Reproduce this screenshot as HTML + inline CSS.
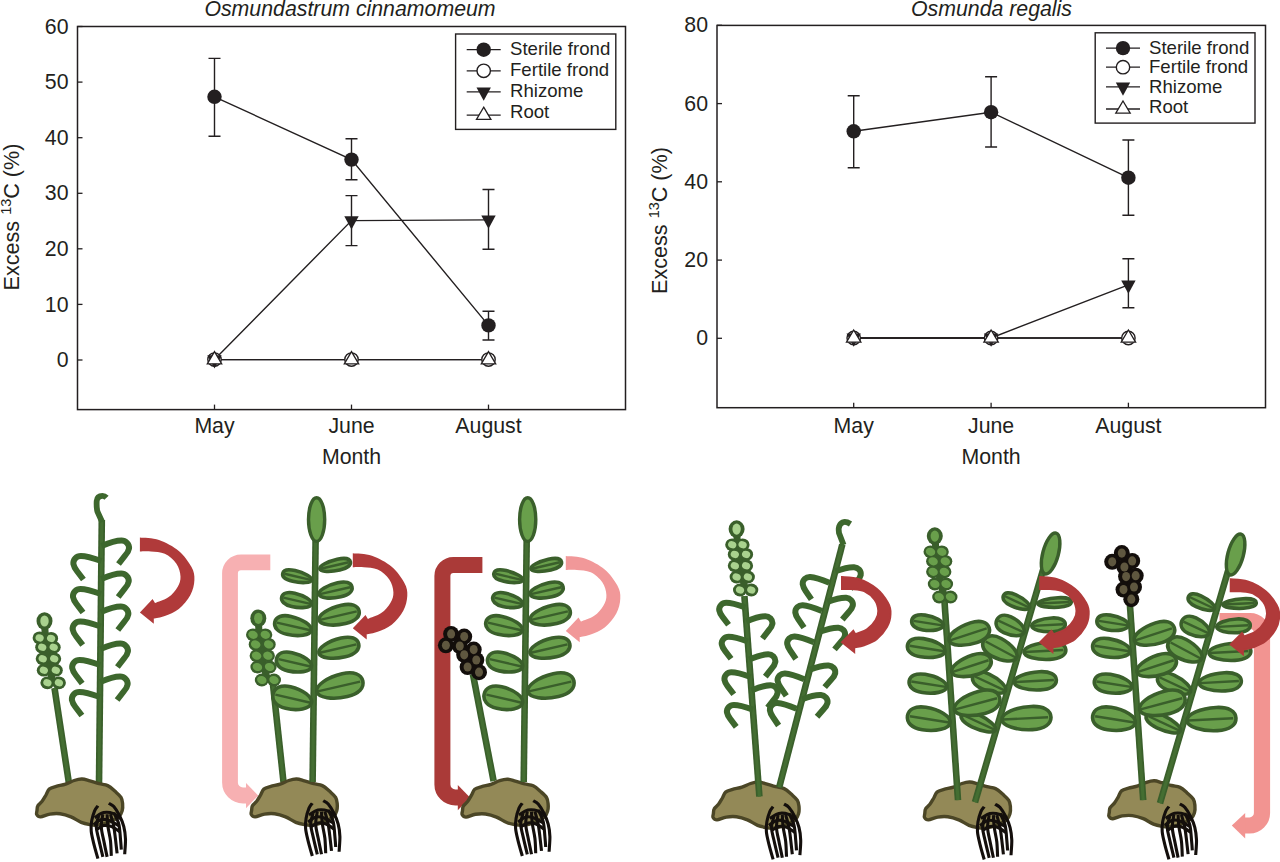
<!DOCTYPE html><html><head><meta charset="utf-8"><style>html,body{margin:0;padding:0;background:#fff;width:1280px;height:862px;overflow:hidden}svg{display:block}</style></head><body>
<svg width="1280" height="862" viewBox="0 0 1280 862" font-family='"Liberation Sans", sans-serif' fill="#231f20">
<rect x="77.5" y="26.5" width="548.0" height="383.1" fill="none" stroke="#231f20" stroke-width="1.5"/>
<line x1="77.5" y1="26.5" x2="82.5" y2="26.5" stroke="#231f20" stroke-width="1.3"/>
<text x="68.5" y="33.6" text-anchor="end" font-size="21.3">60</text>
<line x1="77.5" y1="82.1" x2="82.5" y2="82.1" stroke="#231f20" stroke-width="1.3"/>
<text x="68.5" y="89.19999999999999" text-anchor="end" font-size="21.3">50</text>
<line x1="77.5" y1="137.7" x2="82.5" y2="137.7" stroke="#231f20" stroke-width="1.3"/>
<text x="68.5" y="144.79999999999998" text-anchor="end" font-size="21.3">40</text>
<line x1="77.5" y1="193.3" x2="82.5" y2="193.3" stroke="#231f20" stroke-width="1.3"/>
<text x="68.5" y="200.4" text-anchor="end" font-size="21.3">30</text>
<line x1="77.5" y1="248.8" x2="82.5" y2="248.8" stroke="#231f20" stroke-width="1.3"/>
<text x="68.5" y="255.9" text-anchor="end" font-size="21.3">20</text>
<line x1="77.5" y1="304.4" x2="82.5" y2="304.4" stroke="#231f20" stroke-width="1.3"/>
<text x="68.5" y="311.5" text-anchor="end" font-size="21.3">10</text>
<line x1="77.5" y1="360.0" x2="82.5" y2="360.0" stroke="#231f20" stroke-width="1.3"/>
<text x="68.5" y="367.1" text-anchor="end" font-size="21.3">0</text>
<line x1="214.5" y1="409.6" x2="214.5" y2="404.6" stroke="#231f20" stroke-width="1.3"/>
<text x="214.5" y="432.8" text-anchor="middle" font-size="21.3">May</text>
<line x1="351.5" y1="409.6" x2="351.5" y2="404.6" stroke="#231f20" stroke-width="1.3"/>
<text x="351.5" y="432.8" text-anchor="middle" font-size="21.3">June</text>
<line x1="488.5" y1="409.6" x2="488.5" y2="404.6" stroke="#231f20" stroke-width="1.3"/>
<text x="488.5" y="432.8" text-anchor="middle" font-size="21.3">August</text>
<text x="351.5" y="464.4" text-anchor="middle" font-size="21.3">Month</text>
<text transform="translate(19,217) rotate(-90)" text-anchor="middle" font-size="21.6">Excess <tspan font-size="14.5" dy="-8">13</tspan><tspan dy="8">C (%)</tspan></text>
<text x="350" y="16" text-anchor="middle" font-size="21.3" font-style="italic">Osmundastrum cinnamomeum</text>
<polyline points="214.5,359.6 351.5,359.6 488.5,359.6" fill="none" stroke="#231f20" stroke-width="1.4"/>
<polyline points="214.5,359.6 351.5,359.6 488.5,359.6" fill="none" stroke="#231f20" stroke-width="1.4"/>
<polyline points="214.5,359.6 351.5,220.6 488.5,219.9" fill="none" stroke="#231f20" stroke-width="1.4"/>
<polyline points="214.5,96.8 351.5,159.6 488.5,325.4" fill="none" stroke="#231f20" stroke-width="1.4"/>
<path d="M214.5,58.4 V136.2 M208.5,58.4 H220.5 M208.5,136.2 H220.5" stroke="#231f20" stroke-width="1.4" fill="none"/>
<path d="M351.5,138.7 V179.8 M345.5,138.7 H357.5 M345.5,179.8 H357.5" stroke="#231f20" stroke-width="1.4" fill="none"/>
<path d="M488.5,311.3 V340 M482.5,311.3 H494.5 M482.5,340 H494.5" stroke="#231f20" stroke-width="1.4" fill="none"/>
<path d="M351.5,195.6 V245.6 M345.5,195.6 H357.5 M345.5,245.6 H357.5" stroke="#231f20" stroke-width="1.4" fill="none"/>
<path d="M488.5,189.5 V249.2 M482.5,189.5 H494.5 M482.5,249.2 H494.5" stroke="#231f20" stroke-width="1.4" fill="none"/>
<circle cx="214.5" cy="96.8" r="7.2" fill="#231f20"/>
<circle cx="351.5" cy="159.6" r="7.2" fill="#231f20"/>
<circle cx="488.5" cy="325.4" r="7.2" fill="#231f20"/>
<circle cx="214.5" cy="359.6" r="6.7" fill="#fff" stroke="#231f20" stroke-width="1.4"/>
<circle cx="351.5" cy="359.6" r="6.7" fill="#fff" stroke="#231f20" stroke-width="1.4"/>
<circle cx="488.5" cy="359.6" r="6.7" fill="#fff" stroke="#231f20" stroke-width="1.4"/>
<path d="M207.3,355.20000000000005 H221.7 L214.5,368.40000000000003 Z" fill="#231f20"/>
<path d="M344.3,216.2 H358.7 L351.5,229.4 Z" fill="#231f20"/>
<path d="M481.3,215.5 H495.7 L488.5,228.70000000000002 Z" fill="#231f20"/>
<path d="M214.5,351.6 L221.7,363.8 H207.3 Z" fill="#fff" stroke="#231f20" stroke-width="1.3" stroke-linejoin="miter"/>
<path d="M351.5,351.6 L358.7,363.8 H344.3 Z" fill="#fff" stroke="#231f20" stroke-width="1.3" stroke-linejoin="miter"/>
<path d="M488.5,351.6 L495.7,363.8 H481.3 Z" fill="#fff" stroke="#231f20" stroke-width="1.3" stroke-linejoin="miter"/>
<rect x="455.6" y="34" width="160.19999999999993" height="95.4" fill="#fff" stroke="#231f20" stroke-width="1.4"/>
<line x1="466.7" y1="49.7" x2="500.7" y2="49.7" stroke="#231f20" stroke-width="1.3"/>
<circle cx="483.7" cy="49.7" r="7.2" fill="#231f20"/>
<text x="510" y="55.3" font-size="18.6">Sterile frond</text>
<line x1="466.7" y1="70.8" x2="500.7" y2="70.8" stroke="#231f20" stroke-width="1.3"/>
<circle cx="483.7" cy="70.8" r="6.7" fill="#fff" stroke="#231f20" stroke-width="1.4"/>
<text x="510" y="76" font-size="18.6">Fertile frond</text>
<line x1="466.7" y1="91.9" x2="500.7" y2="91.9" stroke="#231f20" stroke-width="1.3"/>
<path d="M476.5,87.5 H490.9 L483.7,100.7 Z" fill="#231f20"/>
<text x="510" y="97" font-size="18.6">Rhizome</text>
<line x1="466.7" y1="115.2" x2="500.7" y2="115.2" stroke="#231f20" stroke-width="1.3"/>
<path d="M483.7,107.2 L490.9,119.4 H476.5 Z" fill="#fff" stroke="#231f20" stroke-width="1.3" stroke-linejoin="miter"/>
<text x="510" y="118.4" font-size="18.6">Root</text>
<rect x="717" y="25.4" width="548.5" height="382.3" fill="none" stroke="#231f20" stroke-width="1.5"/>
<line x1="717" y1="25.3" x2="722" y2="25.3" stroke="#231f20" stroke-width="1.3"/>
<text x="708" y="32.4" text-anchor="end" font-size="21.3">80</text>
<line x1="717" y1="103.6" x2="722" y2="103.6" stroke="#231f20" stroke-width="1.3"/>
<text x="708" y="110.69999999999999" text-anchor="end" font-size="21.3">60</text>
<line x1="717" y1="181.8" x2="722" y2="181.8" stroke="#231f20" stroke-width="1.3"/>
<text x="708" y="188.9" text-anchor="end" font-size="21.3">40</text>
<line x1="717" y1="260.1" x2="722" y2="260.1" stroke="#231f20" stroke-width="1.3"/>
<text x="708" y="267.20000000000005" text-anchor="end" font-size="21.3">20</text>
<line x1="717" y1="338.3" x2="722" y2="338.3" stroke="#231f20" stroke-width="1.3"/>
<text x="708" y="345.40000000000003" text-anchor="end" font-size="21.3">0</text>
<line x1="853.7" y1="407.7" x2="853.7" y2="402.7" stroke="#231f20" stroke-width="1.3"/>
<text x="853.7" y="432.8" text-anchor="middle" font-size="21.3">May</text>
<line x1="991.1" y1="407.7" x2="991.1" y2="402.7" stroke="#231f20" stroke-width="1.3"/>
<text x="991.1" y="432.8" text-anchor="middle" font-size="21.3">June</text>
<line x1="1128.4" y1="407.7" x2="1128.4" y2="402.7" stroke="#231f20" stroke-width="1.3"/>
<text x="1128.4" y="432.8" text-anchor="middle" font-size="21.3">August</text>
<text x="991.1" y="464.4" text-anchor="middle" font-size="21.3">Month</text>
<text transform="translate(667,220.5) rotate(-90)" text-anchor="middle" font-size="21.6">Excess <tspan font-size="14.5" dy="-8">13</tspan><tspan dy="8">C (%)</tspan></text>
<text x="991.5" y="16" text-anchor="middle" font-size="21.3" font-style="italic">Osmunda regalis</text>
<polyline points="853.7,338 991.1,338 1128.4,338" fill="none" stroke="#231f20" stroke-width="1.4"/>
<polyline points="853.7,338 991.1,338 1128.4,338" fill="none" stroke="#231f20" stroke-width="1.4"/>
<polyline points="853.7,338 991.1,338 1128.4,284.9" fill="none" stroke="#231f20" stroke-width="1.4"/>
<polyline points="853.7,131.3 991.1,112.2 1128.4,177.7" fill="none" stroke="#231f20" stroke-width="1.4"/>
<path d="M853.7,95.8 V167.8 M847.7,95.8 H859.7 M847.7,167.8 H859.7" stroke="#231f20" stroke-width="1.4" fill="none"/>
<path d="M991.1,76.7 V147 M985.1,76.7 H997.1 M985.1,147 H997.1" stroke="#231f20" stroke-width="1.4" fill="none"/>
<path d="M1128.4,140 V215.3 M1122.4,140 H1134.4 M1122.4,215.3 H1134.4" stroke="#231f20" stroke-width="1.4" fill="none"/>
<path d="M1128.4,258.7 V307.7 M1122.4,258.7 H1134.4 M1122.4,307.7 H1134.4" stroke="#231f20" stroke-width="1.4" fill="none"/>
<circle cx="853.7" cy="131.3" r="7.2" fill="#231f20"/>
<circle cx="991.1" cy="112.2" r="7.2" fill="#231f20"/>
<circle cx="1128.4" cy="177.7" r="7.2" fill="#231f20"/>
<circle cx="853.7" cy="338" r="6.7" fill="#fff" stroke="#231f20" stroke-width="1.4"/>
<circle cx="991.1" cy="338" r="6.7" fill="#fff" stroke="#231f20" stroke-width="1.4"/>
<circle cx="1128.4" cy="338" r="6.7" fill="#fff" stroke="#231f20" stroke-width="1.4"/>
<path d="M846.5,333.6 H860.9000000000001 L853.7,346.8 Z" fill="#231f20"/>
<path d="M983.9,333.6 H998.3000000000001 L991.1,346.8 Z" fill="#231f20"/>
<path d="M1121.2,280.5 H1135.6000000000001 L1128.4,293.7 Z" fill="#231f20"/>
<path d="M853.7,330 L860.9000000000001,342.2 H846.5 Z" fill="#fff" stroke="#231f20" stroke-width="1.3" stroke-linejoin="miter"/>
<path d="M991.1,330 L998.3000000000001,342.2 H983.9 Z" fill="#fff" stroke="#231f20" stroke-width="1.3" stroke-linejoin="miter"/>
<path d="M1128.4,330 L1135.6000000000001,342.2 H1121.2 Z" fill="#fff" stroke="#231f20" stroke-width="1.3" stroke-linejoin="miter"/>
<rect x="1095.2" y="32.8" width="159.79999999999995" height="90.3" fill="#fff" stroke="#231f20" stroke-width="1.4"/>
<line x1="1106" y1="48.1" x2="1140" y2="48.1" stroke="#231f20" stroke-width="1.3"/>
<circle cx="1123" cy="48.1" r="7.2" fill="#231f20"/>
<text x="1149" y="53.6" font-size="18.6">Sterile frond</text>
<line x1="1106" y1="67.2" x2="1140" y2="67.2" stroke="#231f20" stroke-width="1.3"/>
<circle cx="1123" cy="67.2" r="6.7" fill="#fff" stroke="#231f20" stroke-width="1.4"/>
<text x="1149" y="72.7" font-size="18.6">Fertile frond</text>
<line x1="1106" y1="86.9" x2="1140" y2="86.9" stroke="#231f20" stroke-width="1.3"/>
<path d="M1115.8,82.5 H1130.2 L1123,95.7 Z" fill="#231f20"/>
<text x="1149" y="92.6" font-size="18.6">Rhizome</text>
<line x1="1106" y1="109" x2="1140" y2="109" stroke="#231f20" stroke-width="1.3"/>
<path d="M1123,101 L1130.2,113.2 H1115.8 Z" fill="#fff" stroke="#231f20" stroke-width="1.3" stroke-linejoin="miter"/>
<text x="1149" y="112.6" font-size="18.6">Root</text>
<path d="M68.9,783 L54.5,688" stroke="#3a5f2b" stroke-width="6.6" fill="none"/>
<path d="M68.9,783 L54.5,688" stroke="#446e32" stroke-width="3.2" fill="none"/>
<path d="M99,784 L101.8,520" stroke="#3a5f2b" stroke-width="6.6" fill="none"/>
<path d="M99,784 L101.8,520" stroke="#446e32" stroke-width="3.2" fill="none"/>
<path d="M37,810.6 C37.2,809.2 36.9,807.4 37.8,805.9 C38.6,804.4 40.7,803.1 42.1,801.3 C43.5,799.5 44.8,797 46,795 C47.2,793 47.5,790.5 49.2,789.1 C50.9,787.7 53.5,787.2 56.2,786.4 C58.9,785.6 62.6,785.1 65.6,784.1 C68.6,783.1 71.5,781.4 74.2,780.5 C76.9,779.6 79.4,778.9 82,779 C84.6,779.1 86.9,780.1 89.8,780.9 C92.7,781.7 96.2,782.9 99.2,783.7 C102.2,784.5 105.1,784.4 107.7,785.6 C110.3,786.8 112.6,789.1 114.8,791.1 C117,793.1 119.7,795.2 121,797.3 C122.3,799.4 122.4,801.4 122.6,803.6 C122.8,805.8 122.8,808.4 122.2,810.6 C121.6,812.8 121.1,814.9 118.7,816.9 C116.3,818.9 111.6,821.2 108,822.6 C104.4,824 99.9,824.8 97,825.1 C94.1,825.5 93.2,825.2 90.6,824.7 C88,824.2 84.5,823.6 81.2,822.3 C77.9,821 74.5,818.3 71,816.9 C67.5,815.5 63.6,814.3 60.1,813.8 C56.6,813.3 53.1,813.6 49.9,814.1 C46.6,814.6 42.8,816.8 40.6,816.9 C38.4,817 37.3,815.5 36.7,814.5 C36.1,813.5 36.8,812 37,810.6 Z" fill="#938957" stroke="#4b4626" stroke-width="3.4" stroke-linejoin="round"/>
<path d="M97.9,805.8 C97.4,806.6 95.6,808.3 94.6,810.8 C93.6,813.3 92.3,817.5 91.7,820.8 C91.1,824.2 90.9,827.1 91.2,830.9 C91.5,834.7 92.6,838.8 93.7,843.4 C94.8,848 97.2,856.1 97.9,858.6" stroke="#140f0c" stroke-width="3.1" fill="none" stroke-linecap="butt"/>
<path d="M108.8,803.3 C109.6,803.9 112,804.5 113.8,806.6 C115.6,808.7 117.9,812.5 119.6,815.8 C121.3,819.2 122.8,822.8 123.8,826.7 C124.8,830.6 125.3,834.6 125.5,839.2 C125.6,843.8 124.8,851.8 124.7,854.3" stroke="#140f0c" stroke-width="3.1" fill="none" stroke-linecap="butt"/>
<path d="M98.7,815.8 C98.3,817.6 96.3,822.8 96.3,826.7 C96.3,830.6 97.6,834.2 98.7,839.2 C99.8,844.2 102.2,854 102.9,856.9" stroke="#140f0c" stroke-width="3.1" fill="none" stroke-linecap="butt"/>
<path d="M102.9,814.2 C102.6,816.3 101.1,822.2 101.3,826.7 C101.4,831.2 102.8,835.9 103.8,840.9 C104.8,845.9 106.5,854.2 107.1,856.9" stroke="#140f0c" stroke-width="3.1" fill="none" stroke-linecap="butt"/>
<path d="M107.1,814.2 C107.2,816.3 107.4,822.2 108,826.7 C108.6,831.2 109.9,836 110.5,840.9 C111,845.8 111.2,853.4 111.3,855.9" stroke="#140f0c" stroke-width="3.1" fill="none" stroke-linecap="butt"/>
<path d="M110.5,814.2 C111,816.3 113,822.5 113.8,826.7 C114.6,830.9 114.9,834.8 115.5,839.2 C116,843.7 116.8,851 117.1,853.4" stroke="#140f0c" stroke-width="3.1" fill="none" stroke-linecap="butt"/>
<path d="M113.8,812.5 C114.6,814.5 117.7,819.8 118.8,824.2 C119.9,828.7 120.1,835 120.5,839.2 C120.9,843.4 121.2,847.9 121.3,849.6" stroke="#140f0c" stroke-width="3.1" fill="none" stroke-linecap="butt"/>
<path d="M94.6,817.6 C96.1,816.8 100.4,813.3 103.6,812.6 C106.8,811.9 110.8,812.6 113.6,813.6 C116.4,814.6 119.4,817.8 120.6,818.6" stroke="#140f0c" stroke-width="3.1" fill="none" stroke-linecap="butt"/>
<path d="M93.6,824.6 C94.9,823.8 98.9,820.3 101.6,819.6 C104.3,818.9 106.8,819.6 109.6,820.6 C112.4,821.6 117.1,824.8 118.6,825.6" stroke="#140f0c" stroke-width="3.1" fill="none" stroke-linecap="butt"/>
<path d="M96.6,829.6 C97.8,828.9 101.1,826.1 103.6,825.6 C106.1,825.1 108.9,825.6 111.6,826.6 C114.3,827.6 118.3,830.8 119.6,831.6" stroke="#140f0c" stroke-width="3.1" fill="none" stroke-linecap="butt"/>
<path d="M102.2,522 L97.6,512 C96.6,509 96.5,505 96.7,501 C97,497.5 99,495.8 102.5,495.8 C104,495.8 105.3,496.5 106.5,497.8" stroke="#3d672d" stroke-width="5.8" fill="none"/>
<g transform="translate(101.5,546) rotate(0) scale(1.0)"><path d="M0,0 C7,-3 14,-5.5 20,-5.5 C24,-5.5 28,-2 27.5,2.5 C27,5 26,7 24,9 L17,18" stroke="#3d672d" stroke-width="6.00" fill="none" stroke-linejoin="round"/></g>
<g transform="translate(101.2,579) rotate(0) scale(1.0)"><path d="M0,0 C7,-3 14,-5.5 20,-5.5 C24,-5.5 28,-2 27.5,2.5 C27,5 26,7 24,9 L17,18" stroke="#3d672d" stroke-width="6.00" fill="none" stroke-linejoin="round"/></g>
<g transform="translate(100.8,612) rotate(0) scale(1.0)"><path d="M0,0 C7,-3 14,-5.5 20,-5.5 C24,-5.5 28,-2 27.5,2.5 C27,5 26,7 24,9 L17,18" stroke="#3d672d" stroke-width="6.00" fill="none" stroke-linejoin="round"/></g>
<g transform="translate(100.4,649) rotate(0) scale(1.0)"><path d="M0,0 C7,-3 14,-5.5 20,-5.5 C24,-5.5 28,-2 27.5,2.5 C27,5 26,7 24,9 L17,18" stroke="#3d672d" stroke-width="6.00" fill="none" stroke-linejoin="round"/></g>
<g transform="translate(100.1,682) rotate(0) scale(1.0)"><path d="M0,0 C7,-3 14,-5.5 20,-5.5 C24,-5.5 28,-2 27.5,2.5 C27,5 26,7 24,9 L17,18" stroke="#3d672d" stroke-width="6.00" fill="none" stroke-linejoin="round"/></g>
<g transform="translate(101.4,561) rotate(0) scale(1.0)"><path d="M0,0 C-7,-2.5 -14,-5 -20.5,-5 C-25,-5 -28.5,-1.5 -28,3 C-27.5,5.5 -26.5,7.5 -24.5,10 L-18,18.5" stroke="#3d672d" stroke-width="6.00" fill="none" stroke-linejoin="round"/></g>
<g transform="translate(101,594) rotate(0) scale(1.0)"><path d="M0,0 C-7,-2.5 -14,-5 -20.5,-5 C-25,-5 -28.5,-1.5 -28,3 C-27.5,5.5 -26.5,7.5 -24.5,10 L-18,18.5" stroke="#3d672d" stroke-width="6.00" fill="none" stroke-linejoin="round"/></g>
<g transform="translate(100.7,626.5) rotate(0) scale(1.0)"><path d="M0,0 C-7,-2.5 -14,-5 -20.5,-5 C-25,-5 -28.5,-1.5 -28,3 C-27.5,5.5 -26.5,7.5 -24.5,10 L-18,18.5" stroke="#3d672d" stroke-width="6.00" fill="none" stroke-linejoin="round"/></g>
<g transform="translate(100.2,665) rotate(0) scale(1.0)"><path d="M0,0 C-7,-2.5 -14,-5 -20.5,-5 C-25,-5 -28.5,-1.5 -28,3 C-27.5,5.5 -26.5,7.5 -24.5,10 L-18,18.5" stroke="#3d672d" stroke-width="6.00" fill="none" stroke-linejoin="round"/></g>
<g transform="translate(99.9,697) rotate(0) scale(1.0)"><path d="M0,0 C-7,-2.5 -14,-5 -20.5,-5 C-25,-5 -28.5,-1.5 -28,3 C-27.5,5.5 -26.5,7.5 -24.5,10 L-18,18.5" stroke="#3d672d" stroke-width="6.00" fill="none" stroke-linejoin="round"/></g>
<path d="M44.5,621 L45.4,638.1 L48,647.3 L48.5,658.8 L49.8,670.2 L53.1,682.8" stroke="#3a5f2b" stroke-width="7" fill="none"/>
<ellipse cx="44.5" cy="621" rx="8.0" ry="8.8" fill="#3a5f2b"/>
<ellipse cx="39.6" cy="637.9" rx="7.0" ry="6.4" fill="#3a5f2b"/>
<ellipse cx="51.1" cy="638.4" rx="7.0" ry="6.4" fill="#3a5f2b"/>
<ellipse cx="42.2" cy="647.3" rx="7.0" ry="6.4" fill="#3a5f2b"/>
<ellipse cx="53.7" cy="647.3" rx="7.0" ry="6.4" fill="#3a5f2b"/>
<ellipse cx="42.7" cy="658.8" rx="7.0" ry="6.4" fill="#3a5f2b"/>
<ellipse cx="54.2" cy="658.8" rx="7.0" ry="6.4" fill="#3a5f2b"/>
<ellipse cx="43.8" cy="670.2" rx="7.0" ry="6.4" fill="#3a5f2b"/>
<ellipse cx="55.8" cy="670.2" rx="7.0" ry="6.4" fill="#3a5f2b"/>
<ellipse cx="47.4" cy="682.8" rx="7.0" ry="6.4" fill="#3a5f2b"/>
<ellipse cx="58.9" cy="682.8" rx="7.0" ry="6.4" fill="#3a5f2b"/>
<ellipse cx="44.5" cy="621" rx="4.2" ry="5.6" fill="#a9d28e"/>
<ellipse cx="39.6" cy="637.9" rx="4.2" ry="3.5" fill="#a9d28e" transform="rotate(20 39.6 637.9)"/>
<ellipse cx="51.1" cy="638.4" rx="4.2" ry="3.5" fill="#a9d28e" transform="rotate(20 51.1 638.4)"/>
<ellipse cx="42.2" cy="647.3" rx="4.2" ry="3.5" fill="#a9d28e" transform="rotate(20 42.2 647.3)"/>
<ellipse cx="53.7" cy="647.3" rx="4.2" ry="3.5" fill="#a9d28e" transform="rotate(20 53.7 647.3)"/>
<ellipse cx="42.7" cy="658.8" rx="4.2" ry="3.5" fill="#a9d28e" transform="rotate(20 42.7 658.8)"/>
<ellipse cx="54.2" cy="658.8" rx="4.2" ry="3.5" fill="#a9d28e" transform="rotate(20 54.2 658.8)"/>
<ellipse cx="43.8" cy="670.2" rx="4.2" ry="3.5" fill="#a9d28e" transform="rotate(20 43.8 670.2)"/>
<ellipse cx="55.8" cy="670.2" rx="4.2" ry="3.5" fill="#a9d28e" transform="rotate(20 55.8 670.2)"/>
<ellipse cx="47.4" cy="682.8" rx="4.2" ry="3.5" fill="#a9d28e" transform="rotate(20 47.4 682.8)"/>
<ellipse cx="58.9" cy="682.8" rx="4.2" ry="3.5" fill="#a9d28e" transform="rotate(20 58.9 682.8)"/>
<path d="M139.9,537.5 C143.1,537.9 152.5,537.7 159,539.9 C165.5,542.1 173.4,546.4 178.8,550.9 C184.2,555.4 188.9,562.3 191.5,567.1 C194.1,571.9 194.6,575.2 194.4,579.9 C194.2,584.5 193,590.2 190.4,595 C187.8,599.8 183.1,605.4 178.8,608.9 C174.5,612.4 169,614.3 164.8,615.9 C160.6,617.5 155.6,618.1 153.8,618.5 L153.8,623.8 L139.9,612.4 L152.6,599.1 L155,603.1 C157.2,602.1 164.5,600 168.3,597.3 C172.1,594.6 175.6,590.4 177.6,586.9 C179.6,583.4 180.7,580.3 180.5,576.4 C180.3,572.5 179,567.5 176.4,563.7 C173.8,559.9 169.1,555.8 164.8,553.8 C160.6,551.8 155.1,551.9 150.9,551.5 C146.8,551.1 141.7,551.5 139.9,551.5 Z" fill="#b03a3a"/>
<path d="M270.3,562.3 H241 A11,11 0 0 0 230,573.3 V782.5 A13,13 0 0 0 243,795.5 H247" stroke="#f7b0b2" stroke-width="15.8" fill="none"/>
<path d="M246,782.9 L258.2,795.5 L246,808.3 Z" fill="#f7b0b2"/>
<path d="M283.5,782 L272.5,680" stroke="#3a5f2b" stroke-width="6.6" fill="none"/>
<path d="M283.5,782 L272.5,680" stroke="#446e32" stroke-width="3.2" fill="none"/>
<path d="M251.6,810.6 C251.8,809.2 251.6,807.4 252.4,805.9 C253.2,804.4 255.3,803.1 256.7,801.3 C258.1,799.5 259.4,797 260.6,795 C261.8,793 262.1,790.5 263.8,789.1 C265.5,787.7 268.1,787.2 270.8,786.4 C273.5,785.6 277.2,785.1 280.2,784.1 C283.2,783.1 286.1,781.4 288.8,780.5 C291.5,779.6 294,778.9 296.6,779 C299.2,779.1 301.5,780.1 304.4,780.9 C307.3,781.7 310.8,782.9 313.8,783.7 C316.8,784.5 319.7,784.4 322.3,785.6 C324.9,786.8 327.2,789.1 329.4,791.1 C331.6,793.1 334.3,795.2 335.6,797.3 C336.9,799.4 337,801.4 337.2,803.6 C337.4,805.8 337.4,808.4 336.8,810.6 C336.2,812.8 335.7,814.9 333.3,816.9 C330.9,818.9 326.2,821.2 322.6,822.6 C319,824 314.5,824.8 311.6,825.1 C308.7,825.5 307.8,825.2 305.2,824.7 C302.6,824.2 299.1,823.6 295.8,822.3 C292.5,821 289.1,818.3 285.6,816.9 C282.1,815.5 278.2,814.3 274.7,813.8 C271.2,813.3 267.8,813.6 264.5,814.1 C261.2,814.6 257.4,816.8 255.2,816.9 C253,817 251.9,815.5 251.3,814.5 C250.7,813.5 251.4,812 251.6,810.6 Z" fill="#938957" stroke="#4b4626" stroke-width="3.4" stroke-linejoin="round"/>
<path d="M312.3,803.2 C311.8,804 310,805.7 309,808.2 C308,810.7 306.7,814.9 306.1,818.2 C305.5,821.6 305.3,824.5 305.6,828.3 C305.9,832.1 307,836.2 308.1,840.8 C309.2,845.4 311.6,853.5 312.3,856" stroke="#140f0c" stroke-width="3.1" fill="none" stroke-linecap="butt"/>
<path d="M323.2,800.7 C324,801.2 326.4,801.9 328.2,804 C330,806.1 332.3,809.9 334,813.2 C335.7,816.6 337.2,820.2 338.2,824.1 C339.2,828 339.8,832 339.9,836.6 C340,841.2 339.2,849.2 339.1,851.7" stroke="#140f0c" stroke-width="3.1" fill="none" stroke-linecap="butt"/>
<path d="M313.1,813.2 C312.7,815 310.7,820.2 310.7,824.1 C310.7,828 312,831.6 313.1,836.6 C314.2,841.6 316.6,851.3 317.3,854.3" stroke="#140f0c" stroke-width="3.1" fill="none" stroke-linecap="butt"/>
<path d="M317.3,811.6 C317,813.7 315.6,819.7 315.7,824.1 C315.8,828.5 317.2,833.3 318.2,838.3 C319.2,843.3 320.9,851.6 321.5,854.3" stroke="#140f0c" stroke-width="3.1" fill="none" stroke-linecap="butt"/>
<path d="M321.5,811.6 C321.6,813.7 321.8,819.7 322.4,824.1 C323,828.5 324.3,833.4 324.9,838.3 C325.4,843.2 325.6,850.8 325.7,853.3" stroke="#140f0c" stroke-width="3.1" fill="none" stroke-linecap="butt"/>
<path d="M324.9,811.6 C325.4,813.7 327.4,819.9 328.2,824.1 C329,828.3 329.3,832.2 329.9,836.6 C330.4,841 331.2,848.4 331.5,850.8" stroke="#140f0c" stroke-width="3.1" fill="none" stroke-linecap="butt"/>
<path d="M328.2,809.9 C329,811.9 332.1,817.1 333.2,821.6 C334.3,826.1 334.5,832.4 334.9,836.6 C335.3,840.8 335.6,845.3 335.7,847" stroke="#140f0c" stroke-width="3.1" fill="none" stroke-linecap="butt"/>
<path d="M309,815 C310.5,814.2 314.8,810.7 318,810 C321.2,809.3 325.2,810 328,811 C330.8,812 333.8,815.2 335,816" stroke="#140f0c" stroke-width="3.1" fill="none" stroke-linecap="butt"/>
<path d="M308,822 C309.3,821.2 313.3,817.7 316,817 C318.7,816.3 321.2,817 324,818 C326.8,819 331.5,822.2 333,823" stroke="#140f0c" stroke-width="3.1" fill="none" stroke-linecap="butt"/>
<path d="M311,827 C312.2,826.3 315.5,823.5 318,823 C320.5,822.5 323.3,823 326,824 C328.7,825 332.7,828.2 334,829" stroke="#140f0c" stroke-width="3.1" fill="none" stroke-linecap="butt"/>
<path d="M312.6,782 L315.6,540" stroke="#3a5f2b" stroke-width="6.6" fill="none"/>
<path d="M312.6,782 L315.6,540" stroke="#446e32" stroke-width="3.2" fill="none"/>
<ellipse transform="translate(316.6,519.6) rotate(0)" rx="8.1" ry="21.8" fill="#699f4b" stroke="#3a5f2b" stroke-width="3.4"/>
<g transform="translate(335.6,565.3) rotate(-13)"><path d="M-16.2,0 C-16.2,-3.1 -6.8,-5.6 3,-5.6 C10.9,-5.6 15.2,-3.2 15.2,0 C15.2,3.2 10.9,5.6 3,5.6 C-6.8,5.6 -16.2,3.1 -16.2,0 Z" fill="#699f4b" stroke="#3a5f2b" stroke-width="3.6" stroke-linejoin="round"/>
<path d="M-15.2,0 L13.4,0" stroke="#3a5f2b" stroke-width="2.4"/>
</g>
<g transform="translate(336,590.5) rotate(-13)"><path d="M-17.4,0 C-17.4,-4 -7.4,-7.2 3.3,-7.2 C11.8,-7.2 16.4,-4.2 16.4,0 C16.4,4.2 11.8,7.2 3.3,7.2 C-7.4,7.2 -17.4,4 -17.4,0 Z" fill="#699f4b" stroke="#3a5f2b" stroke-width="3.6" stroke-linejoin="round"/>
<path d="M-16.4,0 L14.4,0" stroke="#3a5f2b" stroke-width="2.4"/>
</g>
<g transform="translate(339.6,615.3) rotate(-13)"><path d="M-21,0 C-21,-5.2 -9,-9.4 4,-9.4 C14.4,-9.4 20,-5.5 20,0 C20,5.5 14.4,9.4 4,9.4 C-9,9.4 -21,5.2 -21,0 Z" fill="#699f4b" stroke="#3a5f2b" stroke-width="3.6" stroke-linejoin="round"/>
<path d="M-20,0 L17.6,0" stroke="#3a5f2b" stroke-width="2.4"/>
</g>
<g transform="translate(339.3,648.3) rotate(-13)"><path d="M-20.9,0 C-20.9,-5.3 -9,-9.6 4,-9.6 C14.3,-9.6 19.9,-5.6 19.9,0 C19.9,5.6 14.3,9.6 4,9.6 C-9,9.6 -20.9,5.3 -20.9,0 Z" fill="#699f4b" stroke="#3a5f2b" stroke-width="3.6" stroke-linejoin="round"/>
<path d="M-19.9,0 L17.5,0" stroke="#3a5f2b" stroke-width="2.4"/>
</g>
<g transform="translate(340.3,686.2) rotate(-13)"><path d="M-24.1,0 C-24.1,-6.4 -10.4,-11.7 4.6,-11.7 C16.6,-11.7 23.1,-6.8 23.1,0 C23.1,6.8 16.6,11.7 4.6,11.7 C-10.4,11.7 -24.1,6.4 -24.1,0 Z" fill="#699f4b" stroke="#3a5f2b" stroke-width="3.6" stroke-linejoin="round"/>
<path d="M-23.1,0 L20.3,0" stroke="#3a5f2b" stroke-width="2.4"/>
</g>
<g transform="translate(296.7,576.6) rotate(13) scale(-1,1)"><path d="M-15.3,0 C-15.3,-3 -6.4,-5.5 2.9,-5.5 C10.3,-5.5 14.3,-3.2 14.3,0 C14.3,3.2 10.3,5.5 2.9,5.5 C-6.4,5.5 -15.3,3 -15.3,0 Z" fill="#699f4b" stroke="#3a5f2b" stroke-width="3.6" stroke-linejoin="round"/>
<path d="M-14.3,0 L12.6,0" stroke="#3a5f2b" stroke-width="2.4"/>
</g>
<g transform="translate(296,600.5) rotate(13) scale(-1,1)"><path d="M-15.7,0 C-15.7,-3.7 -6.6,-6.8 2.9,-6.8 C10.6,-6.8 14.7,-3.9 14.7,0 C14.7,3.9 10.6,6.8 2.9,6.8 C-6.6,6.8 -15.7,3.7 -15.7,0 Z" fill="#699f4b" stroke="#3a5f2b" stroke-width="3.6" stroke-linejoin="round"/>
<path d="M-14.7,0 L12.9,0" stroke="#3a5f2b" stroke-width="2.4"/>
</g>
<g transform="translate(292.5,626.2) rotate(13) scale(-1,1)"><path d="M-19.2,0 C-19.2,-5.1 -8.2,-9.2 3.6,-9.2 C13.1,-9.2 18.2,-5.3 18.2,0 C18.2,5.3 13.1,9.2 3.6,9.2 C-8.2,9.2 -19.2,5.1 -19.2,0 Z" fill="#699f4b" stroke="#3a5f2b" stroke-width="3.6" stroke-linejoin="round"/>
<path d="M-18.2,0 L16,0" stroke="#3a5f2b" stroke-width="2.4"/>
</g>
<g transform="translate(293.5,662.6) rotate(13) scale(-1,1)"><path d="M-18.4,0 C-18.4,-5.1 -7.8,-9.3 3.5,-9.3 C12.5,-9.3 17.4,-5.4 17.4,0 C17.4,5.4 12.5,9.3 3.5,9.3 C-7.8,9.3 -18.4,5.1 -18.4,0 Z" fill="#699f4b" stroke="#3a5f2b" stroke-width="3.6" stroke-linejoin="round"/>
<path d="M-17.4,0 L15.3,0" stroke="#3a5f2b" stroke-width="2.4"/>
</g>
<g transform="translate(291.8,698.4) rotate(13) scale(-1,1)"><path d="M-20.2,0 C-20.2,-6.1 -8.6,-11.1 3.8,-11.1 C13.8,-11.1 19.2,-6.4 19.2,0 C19.2,6.4 13.8,11.1 3.8,11.1 C-8.6,11.1 -20.2,6.1 -20.2,0 Z" fill="#699f4b" stroke="#3a5f2b" stroke-width="3.6" stroke-linejoin="round"/>
<path d="M-19.2,0 L16.9,0" stroke="#3a5f2b" stroke-width="2.4"/>
</g>
<path d="M258.3,618.3 L259.1,634.8 L262.2,644.4 L262.2,655.7 L263.5,667 L267.9,680" stroke="#3a5f2b" stroke-width="7" fill="none"/>
<ellipse cx="258.3" cy="618.3" rx="8.0" ry="8.8" fill="#3a5f2b"/>
<ellipse cx="253" cy="634.8" rx="7.0" ry="6.4" fill="#3a5f2b"/>
<ellipse cx="265.3" cy="634.8" rx="7.0" ry="6.4" fill="#3a5f2b"/>
<ellipse cx="255.7" cy="644.4" rx="7.0" ry="6.4" fill="#3a5f2b"/>
<ellipse cx="268.7" cy="644.4" rx="7.0" ry="6.4" fill="#3a5f2b"/>
<ellipse cx="256.6" cy="655.7" rx="7.0" ry="6.4" fill="#3a5f2b"/>
<ellipse cx="267.9" cy="655.7" rx="7.0" ry="6.4" fill="#3a5f2b"/>
<ellipse cx="257.4" cy="667" rx="7.0" ry="6.4" fill="#3a5f2b"/>
<ellipse cx="269.6" cy="667" rx="7.0" ry="6.4" fill="#3a5f2b"/>
<ellipse cx="261.8" cy="680" rx="7.0" ry="6.4" fill="#3a5f2b"/>
<ellipse cx="274" cy="680" rx="7.0" ry="6.4" fill="#3a5f2b"/>
<ellipse cx="258.3" cy="618.3" rx="4.2" ry="5.6" fill="#699f4b"/>
<ellipse cx="253" cy="634.8" rx="4.8" ry="4.0" fill="#699f4b" transform="rotate(20 253 634.8)"/>
<ellipse cx="265.3" cy="634.8" rx="4.8" ry="4.0" fill="#699f4b" transform="rotate(20 265.3 634.8)"/>
<ellipse cx="255.7" cy="644.4" rx="4.8" ry="4.0" fill="#699f4b" transform="rotate(20 255.7 644.4)"/>
<ellipse cx="268.7" cy="644.4" rx="4.8" ry="4.0" fill="#699f4b" transform="rotate(20 268.7 644.4)"/>
<ellipse cx="256.6" cy="655.7" rx="4.8" ry="4.0" fill="#699f4b" transform="rotate(20 256.6 655.7)"/>
<ellipse cx="267.9" cy="655.7" rx="4.8" ry="4.0" fill="#699f4b" transform="rotate(20 267.9 655.7)"/>
<ellipse cx="257.4" cy="667" rx="4.8" ry="4.0" fill="#699f4b" transform="rotate(20 257.4 667)"/>
<ellipse cx="269.6" cy="667" rx="4.8" ry="4.0" fill="#699f4b" transform="rotate(20 269.6 667)"/>
<ellipse cx="261.8" cy="680" rx="4.8" ry="4.0" fill="#699f4b" transform="rotate(20 261.8 680)"/>
<ellipse cx="274" cy="680" rx="4.8" ry="4.0" fill="#699f4b" transform="rotate(20 274 680)"/>
<path d="M352.8,553.3 C356,553.7 365.4,553.5 371.9,555.7 C378.4,557.9 386.3,562.2 391.7,566.7 C397.1,571.2 401.8,578.1 404.4,582.9 C407,587.7 407.5,591 407.3,595.7 C407.1,600.3 405.9,606 403.3,610.8 C400.7,615.6 396,621.2 391.7,624.7 C387.4,628.2 381.9,630.1 377.7,631.7 C373.5,633.3 368.5,633.9 366.7,634.3 L366.7,639.6 L352.8,628.2 L365.5,614.9 L367.9,618.9 C370.1,617.9 377.4,615.8 381.2,613.1 C385,610.4 388.5,606.2 390.5,602.7 C392.5,599.2 393.6,596.1 393.4,592.2 C393.2,588.3 391.9,583.3 389.3,579.5 C386.7,575.7 382,571.6 377.7,569.6 C373.5,567.6 368,567.7 363.8,567.3 C359.6,566.9 354.6,567.3 352.8,567.3 Z" fill="#b03a3a"/>
<path d="M482.4,564.9 H453.4 A11,11 0 0 0 442.4,575.9 V784.5 A13,13 0 0 0 455.4,797.5 H458.8" stroke="#aa3a38" stroke-width="16" fill="none"/>
<path d="M457.8,784.9 L470,797.5 L457.8,810.3 Z" fill="#aa3a38"/>
<path d="M493.6,781 L472.9,674" stroke="#3a5f2b" stroke-width="6.6" fill="none"/>
<path d="M493.6,781 L472.9,674" stroke="#446e32" stroke-width="3.2" fill="none"/>
<path d="M462.5,810.8 C462.7,809.4 462.4,807.6 463.3,806.1 C464.2,804.5 466.2,803.3 467.6,801.5 C469,799.7 470.3,797.2 471.5,795.2 C472.7,793.2 473,790.7 474.7,789.3 C476.4,787.9 479,787.4 481.7,786.6 C484.4,785.8 488.1,785.3 491.1,784.3 C494.1,783.3 497,781.5 499.7,780.7 C502.4,779.8 504.9,779.1 507.5,779.2 C510.1,779.3 512.4,780.3 515.3,781.1 C518.2,781.9 521.7,783.1 524.7,783.9 C527.7,784.7 530.6,784.6 533.2,785.8 C535.8,787 538.1,789.3 540.3,791.3 C542.5,793.2 545.2,795.4 546.5,797.5 C547.8,799.6 547.9,801.6 548.1,803.8 C548.3,806 548.4,808.6 547.7,810.8 C547.1,813 546.6,815.1 544.2,817.1 C541.8,819.1 537.1,821.4 533.5,822.8 C529.9,824.2 525.4,824.9 522.5,825.3 C519.6,825.6 518.7,825.4 516.1,824.9 C513.5,824.4 510,823.8 506.7,822.5 C503.4,821.2 500,818.5 496.5,817.1 C493,815.7 489.1,814.5 485.6,814 C482.1,813.5 478.6,813.8 475.4,814.3 C472.1,814.8 468.3,817 466.1,817.1 C463.9,817.2 462.8,815.7 462.2,814.7 C461.6,813.6 462.3,812.2 462.5,810.8 Z" fill="#938957" stroke="#4b4626" stroke-width="3.4" stroke-linejoin="round"/>
<path d="M522.3,803.2 C521.8,804 520,805.7 519,808.2 C518,810.7 516.7,814.9 516.1,818.2 C515.5,821.6 515.3,824.5 515.6,828.3 C515.9,832.1 517,836.2 518.1,840.8 C519.2,845.4 521.6,853.5 522.3,856" stroke="#140f0c" stroke-width="3.1" fill="none" stroke-linecap="butt"/>
<path d="M533.2,800.7 C534,801.2 536.4,801.9 538.2,804 C540,806.1 542.3,809.9 544,813.2 C545.7,816.6 547.2,820.2 548.2,824.1 C549.2,828 549.8,832 549.9,836.6 C550,841.2 549.2,849.2 549.1,851.7" stroke="#140f0c" stroke-width="3.1" fill="none" stroke-linecap="butt"/>
<path d="M523.1,813.2 C522.7,815 520.7,820.2 520.7,824.1 C520.7,828 522,831.6 523.1,836.6 C524.2,841.6 526.6,851.3 527.3,854.3" stroke="#140f0c" stroke-width="3.1" fill="none" stroke-linecap="butt"/>
<path d="M527.3,811.6 C527,813.7 525.6,819.7 525.7,824.1 C525.9,828.5 527.2,833.3 528.2,838.3 C529.2,843.3 531,851.6 531.5,854.3" stroke="#140f0c" stroke-width="3.1" fill="none" stroke-linecap="butt"/>
<path d="M531.5,811.6 C531.6,813.7 531.8,819.7 532.4,824.1 C533,828.5 534.3,833.4 534.9,838.3 C535.5,843.2 535.6,850.8 535.7,853.3" stroke="#140f0c" stroke-width="3.1" fill="none" stroke-linecap="butt"/>
<path d="M534.9,811.6 C535.5,813.7 537.4,819.9 538.2,824.1 C539,828.3 539.4,832.2 539.9,836.6 C540.4,841 541.2,848.4 541.5,850.8" stroke="#140f0c" stroke-width="3.1" fill="none" stroke-linecap="butt"/>
<path d="M538.2,809.9 C539,811.9 542.1,817.1 543.2,821.6 C544.3,826.1 544.5,832.4 544.9,836.6 C545.3,840.8 545.6,845.3 545.7,847" stroke="#140f0c" stroke-width="3.1" fill="none" stroke-linecap="butt"/>
<path d="M519,815 C520.5,814.2 524.8,810.7 528,810 C531.2,809.3 535.2,810 538,811 C540.8,812 543.8,815.2 545,816" stroke="#140f0c" stroke-width="3.1" fill="none" stroke-linecap="butt"/>
<path d="M518,822 C519.3,821.2 523.3,817.7 526,817 C528.7,816.3 531.2,817 534,818 C536.8,819 541.5,822.2 543,823" stroke="#140f0c" stroke-width="3.1" fill="none" stroke-linecap="butt"/>
<path d="M521,827 C522.2,826.3 525.5,823.5 528,823 C530.5,822.5 533.3,823 536,824 C538.7,825 542.7,828.2 544,829" stroke="#140f0c" stroke-width="3.1" fill="none" stroke-linecap="butt"/>
<path d="M523.7,782 L526.7,540" stroke="#3a5f2b" stroke-width="6.6" fill="none"/>
<path d="M523.7,782 L526.7,540" stroke="#446e32" stroke-width="3.2" fill="none"/>
<ellipse transform="translate(527.7,519.6) rotate(0)" rx="8.1" ry="21.8" fill="#699f4b" stroke="#3a5f2b" stroke-width="3.4"/>
<g transform="translate(546.7,565.3) rotate(-13)"><path d="M-16.2,0 C-16.2,-3.1 -6.8,-5.6 3,-5.6 C10.9,-5.6 15.2,-3.2 15.2,0 C15.2,3.2 10.9,5.6 3,5.6 C-6.8,5.6 -16.2,3.1 -16.2,0 Z" fill="#699f4b" stroke="#3a5f2b" stroke-width="3.6" stroke-linejoin="round"/>
<path d="M-15.2,0 L13.4,0" stroke="#3a5f2b" stroke-width="2.4"/>
</g>
<g transform="translate(547.1,590.5) rotate(-13)"><path d="M-17.4,0 C-17.4,-4 -7.4,-7.2 3.3,-7.2 C11.8,-7.2 16.4,-4.2 16.4,0 C16.4,4.2 11.8,7.2 3.3,7.2 C-7.4,7.2 -17.4,4 -17.4,0 Z" fill="#699f4b" stroke="#3a5f2b" stroke-width="3.6" stroke-linejoin="round"/>
<path d="M-16.4,0 L14.4,0" stroke="#3a5f2b" stroke-width="2.4"/>
</g>
<g transform="translate(550.7,615.3) rotate(-13)"><path d="M-21,0 C-21,-5.2 -9,-9.4 4,-9.4 C14.4,-9.4 20,-5.5 20,0 C20,5.5 14.4,9.4 4,9.4 C-9,9.4 -21,5.2 -21,0 Z" fill="#699f4b" stroke="#3a5f2b" stroke-width="3.6" stroke-linejoin="round"/>
<path d="M-20,0 L17.6,0" stroke="#3a5f2b" stroke-width="2.4"/>
</g>
<g transform="translate(550.4,648.3) rotate(-13)"><path d="M-20.9,0 C-20.9,-5.3 -9,-9.6 4,-9.6 C14.3,-9.6 19.9,-5.6 19.9,0 C19.9,5.6 14.3,9.6 4,9.6 C-9,9.6 -20.9,5.3 -20.9,0 Z" fill="#699f4b" stroke="#3a5f2b" stroke-width="3.6" stroke-linejoin="round"/>
<path d="M-19.9,0 L17.5,0" stroke="#3a5f2b" stroke-width="2.4"/>
</g>
<g transform="translate(551.4,686.2) rotate(-13)"><path d="M-24.1,0 C-24.1,-6.4 -10.4,-11.7 4.6,-11.7 C16.6,-11.7 23.1,-6.8 23.1,0 C23.1,6.8 16.6,11.7 4.6,11.7 C-10.4,11.7 -24.1,6.4 -24.1,0 Z" fill="#699f4b" stroke="#3a5f2b" stroke-width="3.6" stroke-linejoin="round"/>
<path d="M-23.1,0 L20.3,0" stroke="#3a5f2b" stroke-width="2.4"/>
</g>
<g transform="translate(507.8,576.6) rotate(13) scale(-1,1)"><path d="M-15.3,0 C-15.3,-3 -6.4,-5.5 2.9,-5.5 C10.3,-5.5 14.3,-3.2 14.3,0 C14.3,3.2 10.3,5.5 2.9,5.5 C-6.4,5.5 -15.3,3 -15.3,0 Z" fill="#699f4b" stroke="#3a5f2b" stroke-width="3.6" stroke-linejoin="round"/>
<path d="M-14.3,0 L12.6,0" stroke="#3a5f2b" stroke-width="2.4"/>
</g>
<g transform="translate(507.1,600.5) rotate(13) scale(-1,1)"><path d="M-15.7,0 C-15.7,-3.7 -6.6,-6.8 2.9,-6.8 C10.6,-6.8 14.7,-3.9 14.7,0 C14.7,3.9 10.6,6.8 2.9,6.8 C-6.6,6.8 -15.7,3.7 -15.7,0 Z" fill="#699f4b" stroke="#3a5f2b" stroke-width="3.6" stroke-linejoin="round"/>
<path d="M-14.7,0 L12.9,0" stroke="#3a5f2b" stroke-width="2.4"/>
</g>
<g transform="translate(503.6,626.2) rotate(13) scale(-1,1)"><path d="M-19.2,0 C-19.2,-5.1 -8.2,-9.2 3.6,-9.2 C13.1,-9.2 18.2,-5.3 18.2,0 C18.2,5.3 13.1,9.2 3.6,9.2 C-8.2,9.2 -19.2,5.1 -19.2,0 Z" fill="#699f4b" stroke="#3a5f2b" stroke-width="3.6" stroke-linejoin="round"/>
<path d="M-18.2,0 L16,0" stroke="#3a5f2b" stroke-width="2.4"/>
</g>
<g transform="translate(504.6,662.6) rotate(13) scale(-1,1)"><path d="M-18.4,0 C-18.4,-5.1 -7.8,-9.3 3.5,-9.3 C12.5,-9.3 17.4,-5.4 17.4,0 C17.4,5.4 12.5,9.3 3.5,9.3 C-7.8,9.3 -18.4,5.1 -18.4,0 Z" fill="#699f4b" stroke="#3a5f2b" stroke-width="3.6" stroke-linejoin="round"/>
<path d="M-17.4,0 L15.3,0" stroke="#3a5f2b" stroke-width="2.4"/>
</g>
<g transform="translate(502.9,698.4) rotate(13) scale(-1,1)"><path d="M-20.2,0 C-20.2,-6.1 -8.6,-11.1 3.8,-11.1 C13.8,-11.1 19.2,-6.4 19.2,0 C19.2,6.4 13.8,11.1 3.8,11.1 C-8.6,11.1 -20.2,6.1 -20.2,0 Z" fill="#699f4b" stroke="#3a5f2b" stroke-width="3.6" stroke-linejoin="round"/>
<path d="M-19.2,0 L16.9,0" stroke="#3a5f2b" stroke-width="2.4"/>
</g>
<circle cx="451.1" cy="633.9" r="8.0" fill="#130e0b"/>
<circle cx="464.2" cy="636.6" r="8.0" fill="#130e0b"/>
<circle cx="445.9" cy="645.3" r="8.0" fill="#130e0b"/>
<circle cx="459.8" cy="646.1" r="8.0" fill="#130e0b"/>
<circle cx="473.7" cy="649.6" r="8.0" fill="#130e0b"/>
<circle cx="464.2" cy="654.8" r="8.0" fill="#130e0b"/>
<circle cx="476.3" cy="660" r="8.0" fill="#130e0b"/>
<circle cx="467.6" cy="667" r="8.0" fill="#130e0b"/>
<circle cx="479" cy="672.2" r="8.0" fill="#130e0b"/>
<ellipse cx="451.1" cy="633.9" rx="4.0" ry="4.6" fill="#5f573f"/>
<ellipse cx="464.2" cy="636.6" rx="4.0" ry="4.6" fill="#5f573f"/>
<ellipse cx="445.9" cy="645.3" rx="4.0" ry="4.6" fill="#5f573f"/>
<ellipse cx="459.8" cy="646.1" rx="4.0" ry="4.6" fill="#5f573f"/>
<ellipse cx="473.7" cy="649.6" rx="4.0" ry="4.6" fill="#5f573f"/>
<ellipse cx="464.2" cy="654.8" rx="4.0" ry="4.6" fill="#5f573f"/>
<ellipse cx="476.3" cy="660" rx="4.0" ry="4.6" fill="#5f573f"/>
<ellipse cx="467.6" cy="667" rx="4.0" ry="4.6" fill="#5f573f"/>
<ellipse cx="479" cy="672.2" rx="4.0" ry="4.6" fill="#5f573f"/>
<path d="M565.8,556 C569,556.4 578.4,556.2 584.9,558.4 C591.4,560.6 599.3,564.9 604.7,569.4 C610.1,573.9 614.8,580.8 617.4,585.6 C620,590.4 620.5,593.8 620.3,598.4 C620.1,603 618.9,608.7 616.3,613.5 C613.7,618.3 609,623.9 604.7,627.4 C600.4,630.9 594.9,632.8 590.7,634.4 C586.5,636 581.5,636.6 579.7,637 L579.7,642.3 L565.8,630.9 L578.5,617.6 L580.9,621.6 C583.1,620.6 590.4,618.5 594.2,615.8 C598,613.1 601.5,608.9 603.5,605.4 C605.5,601.9 606.6,598.8 606.4,594.9 C606.2,591 604.9,586 602.3,582.2 C599.7,578.4 594.9,574.3 590.7,572.3 C586.4,570.3 580.9,570.4 576.8,570 C572.6,569.6 567.6,570 565.8,570 Z" fill="#f19899"/>
<path d="M713.4,813.6 C713.6,812.2 713.3,810.4 714.2,808.9 C715,807.4 717.1,806.1 718.5,804.3 C719.9,802.5 721.2,800 722.4,798 C723.6,796 723.9,793.5 725.6,792.1 C727.3,790.7 729.9,790.2 732.6,789.4 C735.3,788.6 739,788.1 742,787.1 C745,786.1 747.9,784.4 750.6,783.5 C753.3,782.6 755.8,781.9 758.4,782 C761,782.1 763.3,783.1 766.2,783.9 C769.1,784.7 772.6,785.9 775.6,786.7 C778.6,787.5 781.5,787.4 784.1,788.6 C786.7,789.8 789,792.1 791.2,794.1 C793.4,796.1 796.1,798.2 797.4,800.3 C798.7,802.4 798.8,804.4 799,806.6 C799.2,808.8 799.2,811.4 798.6,813.6 C798,815.8 797.5,817.9 795.1,819.9 C792.7,821.9 788,824.2 784.4,825.6 C780.8,827 776.3,827.8 773.4,828.1 C770.5,828.5 769.6,828.2 767,827.7 C764.4,827.2 760.9,826.6 757.6,825.3 C754.3,824 750.9,821.3 747.4,819.9 C743.9,818.5 740,817.3 736.5,816.8 C733,816.3 729.5,816.6 726.3,817.1 C723,817.6 719.2,819.8 717,819.9 C714.8,820 713.7,818.5 713.1,817.5 C712.5,816.5 713.2,815 713.4,813.6 Z" fill="#938957" stroke="#4b4626" stroke-width="3.4" stroke-linejoin="round"/>
<path d="M773.1,806.6 C772.5,807.4 770.8,809.1 769.8,811.6 C768.8,814.1 767.5,818.2 766.9,821.6 C766.3,825 766.1,827.9 766.4,831.7 C766.7,835.5 767.8,839.6 768.9,844.2 C770,848.8 772.4,856.9 773.1,859.4" stroke="#140f0c" stroke-width="3.1" fill="none" stroke-linecap="butt"/>
<path d="M784,804.1 C784.8,804.6 787.2,805.3 789,807.4 C790.8,809.5 793.1,813.2 794.8,816.6 C796.5,820 798,823.6 799,827.5 C800,831.4 800.6,835.4 800.7,840 C800.9,844.6 800,852.6 799.9,855.1" stroke="#140f0c" stroke-width="3.1" fill="none" stroke-linecap="butt"/>
<path d="M773.9,816.6 C773.5,818.4 771.5,823.6 771.5,827.5 C771.5,831.4 772.8,835 773.9,840 C775,845 777.4,854.8 778.1,857.7" stroke="#140f0c" stroke-width="3.1" fill="none" stroke-linecap="butt"/>
<path d="M778.1,815 C777.8,817.1 776.4,823 776.5,827.5 C776.6,832 778,836.7 779,841.7 C780,846.7 781.8,855 782.3,857.7" stroke="#140f0c" stroke-width="3.1" fill="none" stroke-linecap="butt"/>
<path d="M782.3,815 C782.4,817.1 782.6,823 783.2,827.5 C783.8,832 785.2,836.8 785.7,841.7 C786.2,846.6 786.4,854.2 786.5,856.7" stroke="#140f0c" stroke-width="3.1" fill="none" stroke-linecap="butt"/>
<path d="M785.7,815 C786.2,817.1 788.2,823.3 789,827.5 C789.8,831.7 790.2,835.5 790.7,840 C791.2,844.5 792,851.8 792.3,854.2" stroke="#140f0c" stroke-width="3.1" fill="none" stroke-linecap="butt"/>
<path d="M789,813.3 C789.8,815.2 792.9,820.5 794,825 C795.1,829.5 795.3,835.8 795.7,840 C796.1,844.2 796.4,848.7 796.5,850.4" stroke="#140f0c" stroke-width="3.1" fill="none" stroke-linecap="butt"/>
<path d="M769.8,818.4 C771.3,817.6 775.6,814.1 778.8,813.4 C782,812.7 786,813.4 788.8,814.4 C791.6,815.4 794.6,818.6 795.8,819.4" stroke="#140f0c" stroke-width="3.1" fill="none" stroke-linecap="butt"/>
<path d="M768.8,825.4 C770.1,824.6 774.1,821.1 776.8,820.4 C779.5,819.7 782,820.4 784.8,821.4 C787.6,822.4 792.3,825.6 793.8,826.4" stroke="#140f0c" stroke-width="3.1" fill="none" stroke-linecap="butt"/>
<path d="M771.8,830.4 C773,829.7 776.3,826.9 778.8,826.4 C781.3,825.9 784.1,826.4 786.8,827.4 C789.5,828.4 793.5,831.6 794.8,832.4" stroke="#140f0c" stroke-width="3.1" fill="none" stroke-linecap="butt"/>
<path d="M759.4,796.6 L744.4,596" stroke="#3a5f2b" stroke-width="6.6" fill="none"/>
<path d="M759.4,796.6 L744.4,596" stroke="#446e32" stroke-width="3.2" fill="none"/>
<path d="M779.2,787.4 L842.3,544.5" stroke="#3a5f2b" stroke-width="6.6" fill="none"/>
<path d="M779.2,787.4 L842.3,544.5" stroke="#446e32" stroke-width="3.2" fill="none"/>
<path d="M843.6,545 L839,533 C838.5,530 838.5,527 839.8,525 C841.5,522 845,520.5 850.5,524" stroke="#3d672d" stroke-width="5.8" fill="none"/>
<g transform="translate(745.3,607.5) rotate(0) scale(0.93)"><path d="M0,0 C-7,-2.5 -14,-5 -20.5,-5 C-25,-5 -28.5,-1.5 -28,3 C-27.5,5.5 -26.5,7.5 -24.5,10 L-18,18.5" stroke="#3d672d" stroke-width="6.45" fill="none" stroke-linejoin="round"/></g>
<g transform="translate(747.8,641.5) rotate(0) scale(0.93)"><path d="M0,0 C-7,-2.5 -14,-5 -20.5,-5 C-25,-5 -28.5,-1.5 -28,3 C-27.5,5.5 -26.5,7.5 -24.5,10 L-18,18.5" stroke="#3d672d" stroke-width="6.45" fill="none" stroke-linejoin="round"/></g>
<g transform="translate(750.5,677) rotate(0) scale(0.93)"><path d="M0,0 C-7,-2.5 -14,-5 -20.5,-5 C-25,-5 -28.5,-1.5 -28,3 C-27.5,5.5 -26.5,7.5 -24.5,10 L-18,18.5" stroke="#3d672d" stroke-width="6.45" fill="none" stroke-linejoin="round"/></g>
<g transform="translate(753,709.6) rotate(0) scale(0.93)"><path d="M0,0 C-7,-2.5 -14,-5 -20.5,-5 C-25,-5 -28.5,-1.5 -28,3 C-27.5,5.5 -26.5,7.5 -24.5,10 L-18,18.5" stroke="#3d672d" stroke-width="6.45" fill="none" stroke-linejoin="round"/></g>
<g transform="translate(746.3,621.4) rotate(0) scale(0.95)"><path d="M0,0 C7,-3 14,-5.5 20,-5.5 C24,-5.5 28,-2 27.5,2.5 C27,5 26,7 24,9 L17,18" stroke="#3d672d" stroke-width="6.32" fill="none" stroke-linejoin="round"/></g>
<g transform="translate(749.2,659.5) rotate(0) scale(0.95)"><path d="M0,0 C7,-3 14,-5.5 20,-5.5 C24,-5.5 28,-2 27.5,2.5 C27,5 26,7 24,9 L17,18" stroke="#3d672d" stroke-width="6.32" fill="none" stroke-linejoin="round"/></g>
<g transform="translate(751.5,690.5) rotate(0) scale(0.95)"><path d="M0,0 C7,-3 14,-5.5 20,-5.5 C24,-5.5 28,-2 27.5,2.5 C27,5 26,7 24,9 L17,18" stroke="#3d672d" stroke-width="6.32" fill="none" stroke-linejoin="round"/></g>
<g transform="translate(835.3,571.3) rotate(3) scale(0.93)"><path d="M0,0 C7,-3 14,-5.5 20,-5.5 C24,-5.5 28,-2 27.5,2.5 C27,5 26,7 24,9 L17,18" stroke="#3d672d" stroke-width="6.45" fill="none" stroke-linejoin="round"/></g>
<g transform="translate(827.4,601.9) rotate(3) scale(0.93)"><path d="M0,0 C7,-3 14,-5.5 20,-5.5 C24,-5.5 28,-2 27.5,2.5 C27,5 26,7 24,9 L17,18" stroke="#3d672d" stroke-width="6.45" fill="none" stroke-linejoin="round"/></g>
<g transform="translate(819.6,631.8) rotate(3) scale(0.93)"><path d="M0,0 C7,-3 14,-5.5 20,-5.5 C24,-5.5 28,-2 27.5,2.5 C27,5 26,7 24,9 L17,18" stroke="#3d672d" stroke-width="6.45" fill="none" stroke-linejoin="round"/></g>
<g transform="translate(809.8,669.6) rotate(3) scale(0.93)"><path d="M0,0 C7,-3 14,-5.5 20,-5.5 C24,-5.5 28,-2 27.5,2.5 C27,5 26,7 24,9 L17,18" stroke="#3d672d" stroke-width="6.45" fill="none" stroke-linejoin="round"/></g>
<g transform="translate(802.1,699.2) rotate(3) scale(0.93)"><path d="M0,0 C7,-3 14,-5.5 20,-5.5 C24,-5.5 28,-2 27.5,2.5 C27,5 26,7 24,9 L17,18" stroke="#3d672d" stroke-width="6.45" fill="none" stroke-linejoin="round"/></g>
<g transform="translate(829.4,582.7) rotate(3) scale(0.95)"><path d="M0,0 C-7,-2.5 -14,-5 -20.5,-5 C-25,-5 -28.5,-1.5 -28,3 C-27.5,5.5 -26.5,7.5 -24.5,10 L-18,18.5" stroke="#3d672d" stroke-width="6.32" fill="none" stroke-linejoin="round"/></g>
<g transform="translate(822,611) rotate(3) scale(0.95)"><path d="M0,0 C-7,-2.5 -14,-5 -20.5,-5 C-25,-5 -28.5,-1.5 -28,3 C-27.5,5.5 -26.5,7.5 -24.5,10 L-18,18.5" stroke="#3d672d" stroke-width="6.32" fill="none" stroke-linejoin="round"/></g>
<g transform="translate(813.9,642.3) rotate(3) scale(0.95)"><path d="M0,0 C-7,-2.5 -14,-5 -20.5,-5 C-25,-5 -28.5,-1.5 -28,3 C-27.5,5.5 -26.5,7.5 -24.5,10 L-18,18.5" stroke="#3d672d" stroke-width="6.32" fill="none" stroke-linejoin="round"/></g>
<g transform="translate(804.3,679.2) rotate(3) scale(0.95)"><path d="M0,0 C-7,-2.5 -14,-5 -20.5,-5 C-25,-5 -28.5,-1.5 -28,3 C-27.5,5.5 -26.5,7.5 -24.5,10 L-18,18.5" stroke="#3d672d" stroke-width="6.32" fill="none" stroke-linejoin="round"/></g>
<g transform="translate(796.6,708.8) rotate(3) scale(0.95)"><path d="M0,0 C-7,-2.5 -14,-5 -20.5,-5 C-25,-5 -28.5,-1.5 -28,3 C-27.5,5.5 -26.5,7.5 -24.5,10 L-18,18.5" stroke="#3d672d" stroke-width="6.32" fill="none" stroke-linejoin="round"/></g>
<path d="M736.6,529.1 L737.4,544.8 L740.5,554.4 L740.5,565.7 L742.2,577 L745.6,590" stroke="#3a5f2b" stroke-width="7" fill="none"/>
<ellipse cx="736.6" cy="529.1" rx="8.0" ry="8.8" fill="#3a5f2b"/>
<ellipse cx="732.2" cy="544.8" rx="7.0" ry="6.4" fill="#3a5f2b"/>
<ellipse cx="742.6" cy="544.8" rx="7.0" ry="6.4" fill="#3a5f2b"/>
<ellipse cx="734.8" cy="554.4" rx="7.0" ry="6.4" fill="#3a5f2b"/>
<ellipse cx="746.1" cy="554.4" rx="7.0" ry="6.4" fill="#3a5f2b"/>
<ellipse cx="734.8" cy="565.7" rx="7.0" ry="6.4" fill="#3a5f2b"/>
<ellipse cx="746.1" cy="565.7" rx="7.0" ry="6.4" fill="#3a5f2b"/>
<ellipse cx="736.6" cy="577" rx="7.0" ry="6.4" fill="#3a5f2b"/>
<ellipse cx="747.9" cy="577" rx="7.0" ry="6.4" fill="#3a5f2b"/>
<ellipse cx="740" cy="590" rx="7.0" ry="6.4" fill="#3a5f2b"/>
<ellipse cx="751.3" cy="590" rx="7.0" ry="6.4" fill="#3a5f2b"/>
<ellipse cx="736.6" cy="529.1" rx="4.2" ry="5.6" fill="#a9d28e"/>
<ellipse cx="732.2" cy="544.8" rx="4.2" ry="3.5" fill="#a9d28e" transform="rotate(20 732.2 544.8)"/>
<ellipse cx="742.6" cy="544.8" rx="4.2" ry="3.5" fill="#a9d28e" transform="rotate(20 742.6 544.8)"/>
<ellipse cx="734.8" cy="554.4" rx="4.2" ry="3.5" fill="#a9d28e" transform="rotate(20 734.8 554.4)"/>
<ellipse cx="746.1" cy="554.4" rx="4.2" ry="3.5" fill="#a9d28e" transform="rotate(20 746.1 554.4)"/>
<ellipse cx="734.8" cy="565.7" rx="4.2" ry="3.5" fill="#a9d28e" transform="rotate(20 734.8 565.7)"/>
<ellipse cx="746.1" cy="565.7" rx="4.2" ry="3.5" fill="#a9d28e" transform="rotate(20 746.1 565.7)"/>
<ellipse cx="736.6" cy="577" rx="4.2" ry="3.5" fill="#a9d28e" transform="rotate(20 736.6 577)"/>
<ellipse cx="747.9" cy="577" rx="4.2" ry="3.5" fill="#a9d28e" transform="rotate(20 747.9 577)"/>
<ellipse cx="740" cy="590" rx="4.2" ry="3.5" fill="#a9d28e" transform="rotate(20 740 590)"/>
<ellipse cx="751.3" cy="590" rx="4.2" ry="3.5" fill="#a9d28e" transform="rotate(20 751.3 590)"/>
<path d="M841.9,577 C844.7,577.3 853.2,577.1 859,579.1 C864.8,581 871.8,584.7 876.7,588.7 C881.5,592.6 885.7,598.6 888,602.8 C890.4,607 890.8,609.9 890.6,613.9 C890.5,618 889.4,622.9 887,627.1 C884.7,631.3 880.5,636.2 876.7,639.2 C872.9,642.2 867.9,643.9 864.2,645.3 C860.4,646.7 856,647.2 854.3,647.6 L854.3,652.2 L841.9,642.2 L853.3,630.7 L855.4,634.1 C857.4,633.3 863.9,631.4 867.3,629.1 C870.7,626.7 873.8,623.1 875.6,620 C877.4,617 878.4,614.2 878.2,610.9 C878,607.5 876.9,603.1 874.5,599.8 C872.2,596.5 868,593 864.2,591.2 C860.4,589.4 855.4,589.5 851.7,589.2 C848,588.9 843.5,589.2 841.9,589.2 Z" fill="#b03a3a" stroke="#b03a3a" stroke-width="1.8" stroke-linejoin="miter"/>
<path d="M924.8,813.6 C925,812.2 924.7,810.4 925.6,808.9 C926.4,807.4 928.5,806.1 929.9,804.3 C931.3,802.5 932.6,800 933.8,798 C935,796 935.3,793.5 937,792.1 C938.7,790.7 941.3,790.2 944,789.4 C946.7,788.6 950.4,788.1 953.4,787.1 C956.4,786.1 959.3,784.4 962,783.5 C964.7,782.6 967.2,781.9 969.8,782 C972.4,782.1 974.7,783.1 977.6,783.9 C980.5,784.7 984,785.9 987,786.7 C990,787.5 992.9,787.4 995.5,788.6 C998.1,789.8 1000.4,792.1 1002.6,794.1 C1004.8,796.1 1007.5,798.2 1008.8,800.3 C1010.1,802.4 1010.2,804.4 1010.4,806.6 C1010.6,808.8 1010.6,811.4 1010,813.6 C1009.4,815.8 1008.9,817.9 1006.5,819.9 C1004.1,821.9 999.4,824.2 995.8,825.6 C992.2,827 987.7,827.8 984.8,828.1 C981.9,828.5 981,828.2 978.4,827.7 C975.8,827.2 972.3,826.6 969,825.3 C965.7,824 962.3,821.3 958.8,819.9 C955.3,818.5 951.4,817.3 947.9,816.8 C944.4,816.3 940.9,816.6 937.7,817.1 C934.4,817.6 930.6,819.8 928.4,819.9 C926.2,820 925.1,818.5 924.5,817.5 C923.9,816.5 924.6,815 924.8,813.6 Z" fill="#938957" stroke="#4b4626" stroke-width="3.4" stroke-linejoin="round"/>
<path d="M984.2,806.7 C983.7,807.5 981.9,809.2 980.9,811.7 C979.9,814.2 978.6,818.4 978,821.7 C977.4,825.1 977.2,828 977.5,831.8 C977.8,835.6 978.9,839.7 980,844.3 C981.1,848.9 983.5,857 984.2,859.5" stroke="#140f0c" stroke-width="3.1" fill="none" stroke-linecap="butt"/>
<path d="M995.1,804.2 C995.9,804.8 998.3,805.4 1000.1,807.5 C1001.9,809.6 1004.2,813.4 1005.9,816.7 C1007.6,820.1 1009.1,823.7 1010.1,827.6 C1011.1,831.5 1011.6,835.5 1011.8,840.1 C1011.9,844.7 1011.1,852.7 1011,855.2" stroke="#140f0c" stroke-width="3.1" fill="none" stroke-linecap="butt"/>
<path d="M985,816.7 C984.6,818.5 982.6,823.7 982.6,827.6 C982.6,831.5 983.9,835.1 985,840.1 C986.1,845.1 988.5,854.8 989.2,857.8" stroke="#140f0c" stroke-width="3.1" fill="none" stroke-linecap="butt"/>
<path d="M989.2,815.1 C988.9,817.2 987.4,823.2 987.6,827.6 C987.7,832 989.1,836.8 990.1,841.8 C991.1,846.8 992.8,855.1 993.4,857.8" stroke="#140f0c" stroke-width="3.1" fill="none" stroke-linecap="butt"/>
<path d="M993.4,815.1 C993.5,817.2 993.7,823.2 994.3,827.6 C994.9,832 996.2,836.9 996.8,841.8 C997.3,846.7 997.5,854.3 997.6,856.8" stroke="#140f0c" stroke-width="3.1" fill="none" stroke-linecap="butt"/>
<path d="M996.8,815.1 C997.3,817.2 999.3,823.4 1000.1,827.6 C1000.9,831.8 1001.2,835.7 1001.8,840.1 C1002.3,844.5 1003.1,851.9 1003.4,854.3" stroke="#140f0c" stroke-width="3.1" fill="none" stroke-linecap="butt"/>
<path d="M1000.1,813.4 C1000.9,815.4 1004,820.6 1005.1,825.1 C1006.2,829.6 1006.4,835.9 1006.8,840.1 C1007.2,844.3 1007.5,848.8 1007.6,850.5" stroke="#140f0c" stroke-width="3.1" fill="none" stroke-linecap="butt"/>
<path d="M980.9,818.5 C982.4,817.7 986.7,814.2 989.9,813.5 C993.1,812.8 997.1,813.5 999.9,814.5 C1002.7,815.5 1005.7,818.7 1006.9,819.5" stroke="#140f0c" stroke-width="3.1" fill="none" stroke-linecap="butt"/>
<path d="M979.9,825.5 C981.2,824.7 985.2,821.2 987.9,820.5 C990.6,819.8 993.1,820.5 995.9,821.5 C998.7,822.5 1003.4,825.7 1004.9,826.5" stroke="#140f0c" stroke-width="3.1" fill="none" stroke-linecap="butt"/>
<path d="M982.9,830.5 C984.1,829.8 987.4,827 989.9,826.5 C992.4,826 995.2,826.5 997.9,827.5 C1000.6,828.5 1004.6,831.7 1005.9,832.5" stroke="#140f0c" stroke-width="3.1" fill="none" stroke-linecap="butt"/>
<path d="M975,802.3 L1048,553" stroke="#3a5f2b" stroke-width="6.6" fill="none"/>
<path d="M975,802.3 L1048,553" stroke="#446e32" stroke-width="3.2" fill="none"/>
<g transform="translate(1016,601.4) rotate(25) scale(-1,1)"><path d="M-14.8,0 C-14.8,-3.3 -6.2,-6 2.8,-6 C9.9,-6 13.8,-3.5 13.8,0 C13.8,3.5 9.9,6 2.8,6 C-6.2,6 -14.8,3.3 -14.8,0 Z" fill="#699f4b" stroke="#3a5f2b" stroke-width="3.6" stroke-linejoin="round"/>
<path d="M-13.8,0 L12.1,0" stroke="#3a5f2b" stroke-width="2.4"/>
</g>
<g transform="translate(1010,626) rotate(25) scale(-1,1)"><path d="M-15.5,0 C-15.5,-4.8 -6.5,-8.7 2.9,-8.7 C10.4,-8.7 14.5,-5 14.5,0 C14.5,5 10.4,8.7 2.9,8.7 C-6.5,8.7 -15.5,4.8 -15.5,0 Z" fill="#699f4b" stroke="#3a5f2b" stroke-width="3.6" stroke-linejoin="round"/>
<path d="M-14.5,0 L12.8,0" stroke="#3a5f2b" stroke-width="2.4"/>
</g>
<g transform="translate(999.7,649) rotate(28) scale(-1,1)"><path d="M-19.1,0 C-19.1,-5.5 -8.1,-10 3.6,-10 C13,-10 18.1,-5.8 18.1,0 C18.1,5.8 13,10 3.6,10 C-8.1,10 -19.1,5.5 -19.1,0 Z" fill="#699f4b" stroke="#3a5f2b" stroke-width="3.6" stroke-linejoin="round"/>
<path d="M-18.1,0 L15.9,0" stroke="#3a5f2b" stroke-width="2.4"/>
</g>
<g transform="translate(988.8,683) rotate(25) scale(-1,1)"><path d="M-18.4,0 C-18.4,-4.5 -7.8,-8.2 3.5,-8.2 C12.5,-8.2 17.4,-4.8 17.4,0 C17.4,4.8 12.5,8.2 3.5,8.2 C-7.8,8.2 -18.4,4.5 -18.4,0 Z" fill="#699f4b" stroke="#3a5f2b" stroke-width="3.6" stroke-linejoin="round"/>
<path d="M-17.4,0 L15.3,0" stroke="#3a5f2b" stroke-width="2.4"/>
</g>
<g transform="translate(978,722) rotate(25) scale(-1,1)"><path d="M-19.2,0 C-19.2,-3.9 -8.2,-7 3.6,-7 C13.1,-7 18.2,-4.1 18.2,0 C18.2,4.1 13.1,7 3.6,7 C-8.2,7 -19.2,3.9 -19.2,0 Z" fill="#699f4b" stroke="#3a5f2b" stroke-width="3.6" stroke-linejoin="round"/>
<path d="M-18.2,0 L16,0" stroke="#3a5f2b" stroke-width="2.4"/>
</g>
<g transform="translate(1055,602.7) rotate(-3)"><path d="M-17.3,0 C-17.3,-2.6 -7.3,-4.8 3.3,-4.8 C11.7,-4.8 16.3,-2.8 16.3,0 C16.3,2.8 11.7,4.8 3.3,4.8 C-7.3,4.8 -17.3,2.6 -17.3,0 Z" fill="#699f4b" stroke="#3a5f2b" stroke-width="3.6" stroke-linejoin="round"/>
<path d="M-16.3,0 L14.3,0" stroke="#3a5f2b" stroke-width="2.4"/>
</g>
<g transform="translate(1049,625) rotate(-3)"><path d="M-17.3,0 C-17.3,-3.8 -7.3,-6.9 3.3,-6.9 C11.7,-6.9 16.3,-4 16.3,0 C16.3,4 11.7,6.9 3.3,6.9 C-7.3,6.9 -17.3,3.8 -17.3,0 Z" fill="#699f4b" stroke="#3a5f2b" stroke-width="3.6" stroke-linejoin="round"/>
<path d="M-16.3,0 L14.3,0" stroke="#3a5f2b" stroke-width="2.4"/>
</g>
<g transform="translate(1045.4,651) rotate(-3)"><path d="M-21.5,0 C-21.5,-4.7 -9.2,-8.6 4.1,-8.6 C14.8,-8.6 20.5,-5 20.5,0 C20.5,5 14.8,8.6 4.1,8.6 C-9.2,8.6 -21.5,4.7 -21.5,0 Z" fill="#699f4b" stroke="#3a5f2b" stroke-width="3.6" stroke-linejoin="round"/>
<path d="M-20.5,0 L18,0" stroke="#3a5f2b" stroke-width="2.4"/>
</g>
<g transform="translate(1035.8,681) rotate(-3)"><path d="M-21.6,0 C-21.6,-5 -9.3,-9.1 4.1,-9.1 C14.8,-9.1 20.6,-5.3 20.6,0 C20.6,5.3 14.8,9.1 4.1,9.1 C-9.3,9.1 -21.6,5 -21.6,0 Z" fill="#699f4b" stroke="#3a5f2b" stroke-width="3.6" stroke-linejoin="round"/>
<path d="M-20.6,0 L18.1,0" stroke="#3a5f2b" stroke-width="2.4"/>
</g>
<g transform="translate(1027,718.3) rotate(-3)"><path d="M-25,0 C-25,-6.4 -10.8,-11.6 4.8,-11.6 C17.3,-11.6 24,-6.7 24,0 C24,6.7 17.3,11.6 4.8,11.6 C-10.8,11.6 -25,6.4 -25,0 Z" fill="#699f4b" stroke="#3a5f2b" stroke-width="3.6" stroke-linejoin="round"/>
<path d="M-24,0 L21.1,0" stroke="#3a5f2b" stroke-width="2.4"/>
</g>
<ellipse transform="translate(1050.6,553.5) rotate(15)" rx="7.8" ry="21.1" fill="#699f4b" stroke="#3a5f2b" stroke-width="3.4"/>
<path d="M958,800.1 L944.4,600" stroke="#3a5f2b" stroke-width="6.6" fill="none"/>
<path d="M958,800.1 L944.4,600" stroke="#446e32" stroke-width="3.2" fill="none"/>
<g transform="translate(927,623) rotate(9) scale(-1,1)"><path d="M-16.5,0 C-16.5,-4.1 -7,-7.5 3.1,-7.5 C11.2,-7.5 15.5,-4.4 15.5,0 C15.5,4.4 11.2,7.5 3.1,7.5 C-7,7.5 -16.5,4.1 -16.5,0 Z" fill="#699f4b" stroke="#3a5f2b" stroke-width="3.6" stroke-linejoin="round"/>
<path d="M-15.5,0 L13.6,0" stroke="#3a5f2b" stroke-width="2.4"/>
</g>
<g transform="translate(925.7,648.3) rotate(9) scale(-1,1)"><path d="M-19.5,0 C-19.5,-5.1 -8.3,-9.2 3.7,-9.2 C13.3,-9.2 18.5,-5.3 18.5,0 C18.5,5.3 13.3,9.2 3.7,9.2 C-8.3,9.2 -19.5,5.1 -19.5,0 Z" fill="#699f4b" stroke="#3a5f2b" stroke-width="3.6" stroke-linejoin="round"/>
<path d="M-18.5,0 L16.3,0" stroke="#3a5f2b" stroke-width="2.4"/>
</g>
<g transform="translate(927.4,684) rotate(9) scale(-1,1)"><path d="M-19.5,0 C-19.5,-5.1 -8.3,-9.2 3.7,-9.2 C13.3,-9.2 18.5,-5.3 18.5,0 C18.5,5.3 13.3,9.2 3.7,9.2 C-8.3,9.2 -19.5,5.1 -19.5,0 Z" fill="#699f4b" stroke="#3a5f2b" stroke-width="3.6" stroke-linejoin="round"/>
<path d="M-18.5,0 L16.3,0" stroke="#3a5f2b" stroke-width="2.4"/>
</g>
<g transform="translate(928.3,719.2) rotate(9) scale(-1,1)"><path d="M-22.1,0 C-22.1,-6.3 -9.5,-11.4 4.2,-11.4 C15.2,-11.4 21.1,-6.6 21.1,0 C21.1,6.6 15.2,11.4 4.2,11.4 C-9.5,11.4 -22.1,6.3 -22.1,0 Z" fill="#699f4b" stroke="#3a5f2b" stroke-width="3.6" stroke-linejoin="round"/>
<path d="M-21.1,0 L18.6,0" stroke="#3a5f2b" stroke-width="2.4"/>
</g>
<g transform="translate(969.6,634) rotate(-18)"><path d="M-21.5,0 C-21.5,-5.7 -9.2,-10.4 4.1,-10.4 C14.8,-10.4 20.5,-6 20.5,0 C20.5,6 14.8,10.4 4.1,10.4 C-9.2,10.4 -21.5,5.7 -21.5,0 Z" fill="#699f4b" stroke="#3a5f2b" stroke-width="3.6" stroke-linejoin="round"/>
<path d="M-20.5,0 L18,0" stroke="#3a5f2b" stroke-width="2.4"/>
</g>
<g transform="translate(971.8,665.7) rotate(-18)"><path d="M-21,0 C-21,-5.5 -9,-10 4,-10 C14.4,-10 20,-5.8 20,0 C20,5.8 14.4,10 4,10 C-9,10 -21,5.5 -21,0 Z" fill="#699f4b" stroke="#3a5f2b" stroke-width="3.6" stroke-linejoin="round"/>
<path d="M-20,0 L17.6,0" stroke="#3a5f2b" stroke-width="2.4"/>
</g>
<g transform="translate(977.5,703.5) rotate(-15)"><path d="M-23.9,0 C-23.9,-6.3 -10.3,-11.5 4.6,-11.5 C16.5,-11.5 22.9,-6.7 22.9,0 C22.9,6.7 16.5,11.5 4.6,11.5 C-10.3,11.5 -23.9,6.3 -23.9,0 Z" fill="#699f4b" stroke="#3a5f2b" stroke-width="3.6" stroke-linejoin="round"/>
<path d="M-22.9,0 L20.2,0" stroke="#3a5f2b" stroke-width="2.4"/>
</g>
<path d="M934.8,536.1 L936.1,551.8 L939.2,561.3 L938.8,571.8 L940.5,584 L944.9,597" stroke="#3a5f2b" stroke-width="7" fill="none"/>
<ellipse cx="934.8" cy="536.1" rx="8.0" ry="8.8" fill="#3a5f2b"/>
<ellipse cx="930.5" cy="551.8" rx="7.0" ry="6.4" fill="#3a5f2b"/>
<ellipse cx="941.8" cy="551.8" rx="7.0" ry="6.4" fill="#3a5f2b"/>
<ellipse cx="933.1" cy="561.3" rx="7.0" ry="6.4" fill="#3a5f2b"/>
<ellipse cx="945.3" cy="561.3" rx="7.0" ry="6.4" fill="#3a5f2b"/>
<ellipse cx="933.1" cy="571.8" rx="7.0" ry="6.4" fill="#3a5f2b"/>
<ellipse cx="944.4" cy="571.8" rx="7.0" ry="6.4" fill="#3a5f2b"/>
<ellipse cx="934.8" cy="584" rx="7.0" ry="6.4" fill="#3a5f2b"/>
<ellipse cx="946.1" cy="584" rx="7.0" ry="6.4" fill="#3a5f2b"/>
<ellipse cx="939.2" cy="597" rx="7.0" ry="6.4" fill="#3a5f2b"/>
<ellipse cx="950.5" cy="597" rx="7.0" ry="6.4" fill="#3a5f2b"/>
<ellipse cx="934.8" cy="536.1" rx="4.2" ry="5.6" fill="#699f4b"/>
<ellipse cx="930.5" cy="551.8" rx="4.8" ry="4.0" fill="#699f4b" transform="rotate(20 930.5 551.8)"/>
<ellipse cx="941.8" cy="551.8" rx="4.8" ry="4.0" fill="#699f4b" transform="rotate(20 941.8 551.8)"/>
<ellipse cx="933.1" cy="561.3" rx="4.8" ry="4.0" fill="#699f4b" transform="rotate(20 933.1 561.3)"/>
<ellipse cx="945.3" cy="561.3" rx="4.8" ry="4.0" fill="#699f4b" transform="rotate(20 945.3 561.3)"/>
<ellipse cx="933.1" cy="571.8" rx="4.8" ry="4.0" fill="#699f4b" transform="rotate(20 933.1 571.8)"/>
<ellipse cx="944.4" cy="571.8" rx="4.8" ry="4.0" fill="#699f4b" transform="rotate(20 944.4 571.8)"/>
<ellipse cx="934.8" cy="584" rx="4.8" ry="4.0" fill="#699f4b" transform="rotate(20 934.8 584)"/>
<ellipse cx="946.1" cy="584" rx="4.8" ry="4.0" fill="#699f4b" transform="rotate(20 946.1 584)"/>
<ellipse cx="939.2" cy="597" rx="4.8" ry="4.0" fill="#699f4b" transform="rotate(20 939.2 597)"/>
<ellipse cx="950.5" cy="597" rx="4.8" ry="4.0" fill="#699f4b" transform="rotate(20 950.5 597)"/>
<path d="M1040.1,577 C1042.9,577.3 1051.4,577.1 1057.2,579.1 C1063,581 1070,584.7 1074.9,588.7 C1079.7,592.6 1083.9,598.6 1086.2,602.8 C1088.6,607 1089,609.9 1088.8,613.9 C1088.7,618 1087.6,622.9 1085.2,627.1 C1082.9,631.3 1078.7,636.2 1074.9,639.2 C1071.1,642.2 1066.1,643.9 1062.4,645.3 C1058.6,646.7 1054.2,647.2 1052.5,647.6 L1052.5,652.2 L1040.1,642.2 L1051.5,630.7 L1053.6,634.1 C1055.6,633.3 1062.1,631.4 1065.5,629.1 C1068.9,626.7 1072,623.1 1073.8,620 C1075.6,617 1076.6,614.2 1076.4,610.9 C1076.2,607.5 1075.1,603.1 1072.7,599.8 C1070.4,596.5 1066.2,593 1062.4,591.2 C1058.6,589.4 1053.6,589.5 1049.9,589.2 C1046.2,588.9 1041.7,589.2 1040.1,589.2 Z" fill="#b03a3a" stroke="#b03a3a" stroke-width="1.8" stroke-linejoin="miter"/>
<path d="M1219.5,621 H1250 A12,12 0 0 1 1262,633 V813 A12.5,12.5 0 0 1 1249.5,825.5 H1244.2" stroke="#f29491" stroke-width="16.2" fill="none"/>
<path d="M1245.2,812.9 L1231.8,825.5 L1245.2,838.4 Z" fill="#f29491"/>
<path d="M1109.3,812.4 C1109.5,811 1109.2,809.2 1110.1,807.7 C1110.9,806.1 1113,804.9 1114.4,803.1 C1115.8,801.3 1117.1,798.8 1118.3,796.8 C1119.5,794.8 1119.8,792.3 1121.5,790.9 C1123.2,789.5 1125.8,789 1128.5,788.2 C1131.2,787.4 1134.9,786.9 1137.9,785.9 C1140.9,784.9 1143.8,783.1 1146.5,782.3 C1149.2,781.4 1151.7,780.7 1154.3,780.8 C1156.9,780.9 1159.2,781.9 1162.1,782.7 C1165,783.5 1168.5,784.7 1171.5,785.5 C1174.5,786.3 1177.4,786.2 1180,787.4 C1182.6,788.6 1184.9,790.9 1187.1,792.9 C1189.3,794.9 1192,797 1193.3,799.1 C1194.6,801.2 1194.7,803.2 1194.9,805.4 C1195.1,807.6 1195.2,810.2 1194.5,812.4 C1193.8,814.6 1193.4,816.7 1191,818.7 C1188.6,820.7 1183.9,823 1180.3,824.4 C1176.7,825.8 1172.2,826.5 1169.3,826.9 C1166.4,827.2 1165.5,827 1162.9,826.5 C1160.3,826 1156.8,825.4 1153.5,824.1 C1150.2,822.8 1146.8,820.1 1143.3,818.7 C1139.8,817.3 1135.9,816.1 1132.4,815.6 C1128.9,815.1 1125.5,815.4 1122.2,815.9 C1119,816.4 1115.1,818.6 1112.9,818.7 C1110.7,818.8 1109.6,817.3 1109,816.3 C1108.4,815.2 1109.1,813.8 1109.3,812.4 Z" fill="#938957" stroke="#4b4626" stroke-width="3.4" stroke-linejoin="round"/>
<path d="M1168.9,806.5 C1168.4,807.3 1166.6,809 1165.6,811.5 C1164.6,814 1163.3,818.1 1162.7,821.5 C1162.1,824.9 1161.9,827.8 1162.2,831.6 C1162.5,835.4 1163.6,839.5 1164.7,844.1 C1165.8,848.7 1168.2,856.8 1168.9,859.3" stroke="#140f0c" stroke-width="3.1" fill="none" stroke-linecap="butt"/>
<path d="M1179.8,804 C1180.6,804.5 1183,805.2 1184.8,807.3 C1186.6,809.4 1188.9,813.1 1190.6,816.5 C1192.3,819.9 1193.8,823.5 1194.8,827.4 C1195.8,831.3 1196.3,835.3 1196.5,839.9 C1196.7,844.5 1195.8,852.5 1195.7,855" stroke="#140f0c" stroke-width="3.1" fill="none" stroke-linecap="butt"/>
<path d="M1169.7,816.5 C1169.3,818.3 1167.3,823.5 1167.3,827.4 C1167.3,831.3 1168.6,834.9 1169.7,839.9 C1170.8,844.9 1173.2,854.6 1173.9,857.6" stroke="#140f0c" stroke-width="3.1" fill="none" stroke-linecap="butt"/>
<path d="M1173.9,814.9 C1173.6,817 1172.2,823 1172.3,827.4 C1172.4,831.8 1173.8,836.6 1174.8,841.6 C1175.8,846.6 1177.5,854.9 1178.1,857.6" stroke="#140f0c" stroke-width="3.1" fill="none" stroke-linecap="butt"/>
<path d="M1178.1,814.9 C1178.2,817 1178.4,823 1179,827.4 C1179.6,831.8 1181,836.7 1181.5,841.6 C1182,846.5 1182.2,854.1 1182.3,856.6" stroke="#140f0c" stroke-width="3.1" fill="none" stroke-linecap="butt"/>
<path d="M1181.5,814.9 C1182,817 1184,823.2 1184.8,827.4 C1185.6,831.6 1186,835.5 1186.5,839.9 C1187,844.3 1187.8,851.7 1188.1,854.1" stroke="#140f0c" stroke-width="3.1" fill="none" stroke-linecap="butt"/>
<path d="M1184.8,813.2 C1185.6,815.1 1188.7,820.4 1189.8,824.9 C1190.9,829.4 1191.1,835.7 1191.5,839.9 C1191.9,844.1 1192.2,848.6 1192.3,850.3" stroke="#140f0c" stroke-width="3.1" fill="none" stroke-linecap="butt"/>
<path d="M1165.6,818.3 C1167.1,817.5 1171.4,814 1174.6,813.3 C1177.8,812.6 1181.8,813.3 1184.6,814.3 C1187.4,815.3 1190.4,818.5 1191.6,819.3" stroke="#140f0c" stroke-width="3.1" fill="none" stroke-linecap="butt"/>
<path d="M1164.6,825.3 C1165.9,824.5 1169.9,821 1172.6,820.3 C1175.3,819.6 1177.8,820.3 1180.6,821.3 C1183.4,822.3 1188.1,825.5 1189.6,826.3" stroke="#140f0c" stroke-width="3.1" fill="none" stroke-linecap="butt"/>
<path d="M1167.6,830.3 C1168.8,829.6 1172.1,826.8 1174.6,826.3 C1177.1,825.8 1179.9,826.3 1182.6,827.3 C1185.3,828.3 1189.3,831.5 1190.6,832.3" stroke="#140f0c" stroke-width="3.1" fill="none" stroke-linecap="butt"/>
<path d="M1160,803.3 L1233,554" stroke="#3a5f2b" stroke-width="6.6" fill="none"/>
<path d="M1160,803.3 L1233,554" stroke="#446e32" stroke-width="3.2" fill="none"/>
<g transform="translate(1201,602.4) rotate(25) scale(-1,1)"><path d="M-14.8,0 C-14.8,-3.3 -6.2,-6 2.8,-6 C9.9,-6 13.8,-3.5 13.8,0 C13.8,3.5 9.9,6 2.8,6 C-6.2,6 -14.8,3.3 -14.8,0 Z" fill="#699f4b" stroke="#3a5f2b" stroke-width="3.6" stroke-linejoin="round"/>
<path d="M-13.8,0 L12.1,0" stroke="#3a5f2b" stroke-width="2.4"/>
</g>
<g transform="translate(1195,627) rotate(25) scale(-1,1)"><path d="M-15.5,0 C-15.5,-4.8 -6.5,-8.7 2.9,-8.7 C10.4,-8.7 14.5,-5 14.5,0 C14.5,5 10.4,8.7 2.9,8.7 C-6.5,8.7 -15.5,4.8 -15.5,0 Z" fill="#699f4b" stroke="#3a5f2b" stroke-width="3.6" stroke-linejoin="round"/>
<path d="M-14.5,0 L12.8,0" stroke="#3a5f2b" stroke-width="2.4"/>
</g>
<g transform="translate(1184.7,650) rotate(28) scale(-1,1)"><path d="M-19.1,0 C-19.1,-5.5 -8.1,-10 3.6,-10 C13,-10 18.1,-5.8 18.1,0 C18.1,5.8 13,10 3.6,10 C-8.1,10 -19.1,5.5 -19.1,0 Z" fill="#699f4b" stroke="#3a5f2b" stroke-width="3.6" stroke-linejoin="round"/>
<path d="M-18.1,0 L15.9,0" stroke="#3a5f2b" stroke-width="2.4"/>
</g>
<g transform="translate(1173.8,684) rotate(25) scale(-1,1)"><path d="M-18.4,0 C-18.4,-4.5 -7.8,-8.2 3.5,-8.2 C12.5,-8.2 17.4,-4.8 17.4,0 C17.4,4.8 12.5,8.2 3.5,8.2 C-7.8,8.2 -18.4,4.5 -18.4,0 Z" fill="#699f4b" stroke="#3a5f2b" stroke-width="3.6" stroke-linejoin="round"/>
<path d="M-17.4,0 L15.3,0" stroke="#3a5f2b" stroke-width="2.4"/>
</g>
<g transform="translate(1163,723) rotate(25) scale(-1,1)"><path d="M-19.2,0 C-19.2,-3.9 -8.2,-7 3.6,-7 C13.1,-7 18.2,-4.1 18.2,0 C18.2,4.1 13.1,7 3.6,7 C-8.2,7 -19.2,3.9 -19.2,0 Z" fill="#699f4b" stroke="#3a5f2b" stroke-width="3.6" stroke-linejoin="round"/>
<path d="M-18.2,0 L16,0" stroke="#3a5f2b" stroke-width="2.4"/>
</g>
<g transform="translate(1240,603.7) rotate(-3)"><path d="M-17.3,0 C-17.3,-2.6 -7.3,-4.8 3.3,-4.8 C11.7,-4.8 16.3,-2.8 16.3,0 C16.3,2.8 11.7,4.8 3.3,4.8 C-7.3,4.8 -17.3,2.6 -17.3,0 Z" fill="#699f4b" stroke="#3a5f2b" stroke-width="3.6" stroke-linejoin="round"/>
<path d="M-16.3,0 L14.3,0" stroke="#3a5f2b" stroke-width="2.4"/>
</g>
<g transform="translate(1234,626) rotate(-3)"><path d="M-17.3,0 C-17.3,-3.8 -7.3,-6.9 3.3,-6.9 C11.7,-6.9 16.3,-4 16.3,0 C16.3,4 11.7,6.9 3.3,6.9 C-7.3,6.9 -17.3,3.8 -17.3,0 Z" fill="#699f4b" stroke="#3a5f2b" stroke-width="3.6" stroke-linejoin="round"/>
<path d="M-16.3,0 L14.3,0" stroke="#3a5f2b" stroke-width="2.4"/>
</g>
<g transform="translate(1230.4,652) rotate(-3)"><path d="M-21.5,0 C-21.5,-4.7 -9.2,-8.6 4.1,-8.6 C14.8,-8.6 20.5,-5 20.5,0 C20.5,5 14.8,8.6 4.1,8.6 C-9.2,8.6 -21.5,4.7 -21.5,0 Z" fill="#699f4b" stroke="#3a5f2b" stroke-width="3.6" stroke-linejoin="round"/>
<path d="M-20.5,0 L18,0" stroke="#3a5f2b" stroke-width="2.4"/>
</g>
<g transform="translate(1220.8,682) rotate(-3)"><path d="M-21.6,0 C-21.6,-5 -9.3,-9.1 4.1,-9.1 C14.8,-9.1 20.6,-5.3 20.6,0 C20.6,5.3 14.8,9.1 4.1,9.1 C-9.3,9.1 -21.6,5 -21.6,0 Z" fill="#699f4b" stroke="#3a5f2b" stroke-width="3.6" stroke-linejoin="round"/>
<path d="M-20.6,0 L18.1,0" stroke="#3a5f2b" stroke-width="2.4"/>
</g>
<g transform="translate(1212,719.3) rotate(-3)"><path d="M-25,0 C-25,-6.4 -10.8,-11.6 4.8,-11.6 C17.3,-11.6 24,-6.7 24,0 C24,6.7 17.3,11.6 4.8,11.6 C-10.8,11.6 -25,6.4 -25,0 Z" fill="#699f4b" stroke="#3a5f2b" stroke-width="3.6" stroke-linejoin="round"/>
<path d="M-24,0 L21.1,0" stroke="#3a5f2b" stroke-width="2.4"/>
</g>
<ellipse transform="translate(1235.6,554.5) rotate(15)" rx="7.8" ry="21.1" fill="#699f4b" stroke="#3a5f2b" stroke-width="3.4"/>
<path d="M1143.2,800.1 L1129.6,600" stroke="#3a5f2b" stroke-width="6.6" fill="none"/>
<path d="M1143.2,800.1 L1129.6,600" stroke="#446e32" stroke-width="3.2" fill="none"/>
<g transform="translate(1112.2,623) rotate(9) scale(-1,1)"><path d="M-16.5,0 C-16.5,-4.1 -7,-7.5 3.1,-7.5 C11.2,-7.5 15.5,-4.4 15.5,0 C15.5,4.4 11.2,7.5 3.1,7.5 C-7,7.5 -16.5,4.1 -16.5,0 Z" fill="#699f4b" stroke="#3a5f2b" stroke-width="3.6" stroke-linejoin="round"/>
<path d="M-15.5,0 L13.6,0" stroke="#3a5f2b" stroke-width="2.4"/>
</g>
<g transform="translate(1110.9,648.3) rotate(9) scale(-1,1)"><path d="M-19.5,0 C-19.5,-5.1 -8.3,-9.2 3.7,-9.2 C13.3,-9.2 18.5,-5.3 18.5,0 C18.5,5.3 13.3,9.2 3.7,9.2 C-8.3,9.2 -19.5,5.1 -19.5,0 Z" fill="#699f4b" stroke="#3a5f2b" stroke-width="3.6" stroke-linejoin="round"/>
<path d="M-18.5,0 L16.3,0" stroke="#3a5f2b" stroke-width="2.4"/>
</g>
<g transform="translate(1112.6,684) rotate(9) scale(-1,1)"><path d="M-19.5,0 C-19.5,-5.1 -8.3,-9.2 3.7,-9.2 C13.3,-9.2 18.5,-5.3 18.5,0 C18.5,5.3 13.3,9.2 3.7,9.2 C-8.3,9.2 -19.5,5.1 -19.5,0 Z" fill="#699f4b" stroke="#3a5f2b" stroke-width="3.6" stroke-linejoin="round"/>
<path d="M-18.5,0 L16.3,0" stroke="#3a5f2b" stroke-width="2.4"/>
</g>
<g transform="translate(1113.5,719.2) rotate(9) scale(-1,1)"><path d="M-22.1,0 C-22.1,-6.3 -9.5,-11.4 4.2,-11.4 C15.2,-11.4 21.1,-6.6 21.1,0 C21.1,6.6 15.2,11.4 4.2,11.4 C-9.5,11.4 -22.1,6.3 -22.1,0 Z" fill="#699f4b" stroke="#3a5f2b" stroke-width="3.6" stroke-linejoin="round"/>
<path d="M-21.1,0 L18.6,0" stroke="#3a5f2b" stroke-width="2.4"/>
</g>
<g transform="translate(1154.8,634) rotate(-18)"><path d="M-21.5,0 C-21.5,-5.7 -9.2,-10.4 4.1,-10.4 C14.8,-10.4 20.5,-6 20.5,0 C20.5,6 14.8,10.4 4.1,10.4 C-9.2,10.4 -21.5,5.7 -21.5,0 Z" fill="#699f4b" stroke="#3a5f2b" stroke-width="3.6" stroke-linejoin="round"/>
<path d="M-20.5,0 L18,0" stroke="#3a5f2b" stroke-width="2.4"/>
</g>
<g transform="translate(1157,665.7) rotate(-18)"><path d="M-21,0 C-21,-5.5 -9,-10 4,-10 C14.4,-10 20,-5.8 20,0 C20,5.8 14.4,10 4,10 C-9,10 -21,5.5 -21,0 Z" fill="#699f4b" stroke="#3a5f2b" stroke-width="3.6" stroke-linejoin="round"/>
<path d="M-20,0 L17.6,0" stroke="#3a5f2b" stroke-width="2.4"/>
</g>
<g transform="translate(1162.7,703.5) rotate(-15)"><path d="M-23.9,0 C-23.9,-6.3 -10.3,-11.5 4.6,-11.5 C16.5,-11.5 22.9,-6.7 22.9,0 C22.9,6.7 16.5,11.5 4.6,11.5 C-10.3,11.5 -23.9,6.3 -23.9,0 Z" fill="#699f4b" stroke="#3a5f2b" stroke-width="3.6" stroke-linejoin="round"/>
<path d="M-22.9,0 L20.2,0" stroke="#3a5f2b" stroke-width="2.4"/>
</g>
<circle cx="1121.8" cy="553.1" r="8.0" fill="#130e0b"/>
<circle cx="1112.2" cy="561.8" r="8.0" fill="#130e0b"/>
<circle cx="1132.2" cy="560.9" r="8.0" fill="#130e0b"/>
<circle cx="1124.4" cy="567" r="8.0" fill="#130e0b"/>
<circle cx="1126.1" cy="576.6" r="8.0" fill="#130e0b"/>
<circle cx="1135.7" cy="575.7" r="8.0" fill="#130e0b"/>
<circle cx="1123.5" cy="589.6" r="8.0" fill="#130e0b"/>
<circle cx="1134" cy="587" r="8.0" fill="#130e0b"/>
<circle cx="1131.3" cy="599.2" r="8.0" fill="#130e0b"/>
<ellipse cx="1121.8" cy="553.1" rx="4.0" ry="4.6" fill="#5f573f"/>
<ellipse cx="1112.2" cy="561.8" rx="4.0" ry="4.6" fill="#5f573f"/>
<ellipse cx="1132.2" cy="560.9" rx="4.0" ry="4.6" fill="#5f573f"/>
<ellipse cx="1124.4" cy="567" rx="4.0" ry="4.6" fill="#5f573f"/>
<ellipse cx="1126.1" cy="576.6" rx="4.0" ry="4.6" fill="#5f573f"/>
<ellipse cx="1135.7" cy="575.7" rx="4.0" ry="4.6" fill="#5f573f"/>
<ellipse cx="1123.5" cy="589.6" rx="4.0" ry="4.6" fill="#5f573f"/>
<ellipse cx="1134" cy="587" rx="4.0" ry="4.6" fill="#5f573f"/>
<ellipse cx="1131.3" cy="599.2" rx="4.0" ry="4.6" fill="#5f573f"/>
<path d="M1230.6,579.2 C1233.4,579.5 1241.9,579.3 1247.7,581.3 C1253.5,583.2 1260.5,586.9 1265.4,590.9 C1270.2,594.8 1274.4,600.8 1276.7,605 C1279.1,609.2 1279.5,612.1 1279.3,616.1 C1279.2,620.2 1278.1,625.1 1275.7,629.3 C1273.4,633.5 1269.2,638.4 1265.4,641.4 C1261.6,644.4 1256.6,646.1 1252.9,647.5 C1249.1,648.9 1244.7,649.4 1243,649.8 L1243,654.4 L1230.6,644.4 L1242,632.9 L1244.1,636.3 C1246.1,635.5 1252.6,633.6 1256,631.3 C1259.4,628.9 1262.5,625.3 1264.3,622.2 C1266.1,619.2 1267.1,616.4 1266.9,613.1 C1266.7,609.7 1265.6,605.3 1263.2,602 C1260.9,598.7 1256.7,595.2 1252.9,593.4 C1249.1,591.6 1244.1,591.7 1240.4,591.4 C1236.7,591.1 1232.2,591.4 1230.6,591.4 Z" fill="#b03a3a" stroke="#b03a3a" stroke-width="1.8" stroke-linejoin="miter"/>
</svg></body></html>
